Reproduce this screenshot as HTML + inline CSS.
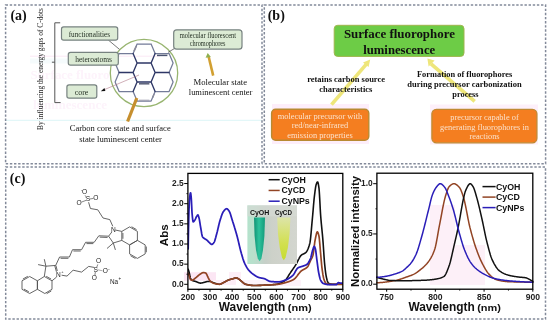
<!DOCTYPE html><html><head><meta charset="utf-8"><style>html,body{margin:0;padding:0;background:#fff;}svg{display:block;will-change:transform;}</style></head><body>
<svg width="550" height="324" viewBox="0 0 550 324">
<rect width="550" height="324" fill="#fff"/>
<defs><clipPath id="ghc"><rect x="0" y="0" width="111" height="324"/></clipPath></defs><g clip-path="url(#ghc)">
<text x="30.5" y="78.6" font-family='"Liberation Serif", serif' font-size="13" font-weight="bold" fill="#fdf3fb" textLength="111" lengthAdjust="spacingAndGlyphs">Surface fluorophore</text>
<text x="33" y="109" font-family='"Liberation Serif", serif' font-size="13" font-weight="bold" fill="#fdf3fb" textLength="74" lengthAdjust="spacingAndGlyphs">luminescence</text>
</g>
<line x1="6" y1="120.3" x2="262" y2="120.3" stroke="#dcf5f7" stroke-width="1" />
<line x1="30" y1="61.0" x2="118" y2="61.0" stroke="#f5fbfc" stroke-width="5" />
<line x1="30" y1="56.2" x2="160" y2="56.2" stroke="#fae2f3" stroke-width="0.8" />
<rect x="5.6" y="5.0" width="256.4" height="158.8" fill="none" stroke="#838a9a" stroke-width="1.5" stroke-dasharray="2.4 1.73"/>
<rect x="264.3" y="5.0" width="281.3" height="158.8" fill="none" stroke="#838a9a" stroke-width="1.5" stroke-dasharray="2.4 1.73"/>
<rect x="5.7" y="167.0" width="539.8" height="152.0" fill="none" stroke="#838a9a" stroke-width="1.5" stroke-dasharray="2.4 1.73"/>
<text x="10.4" y="20.2" font-family='"Liberation Serif", serif' font-size="14" font-weight="bold" fill="#111" text-anchor="start" >(a)</text>
<text x="267.7" y="20.2" font-family='"Liberation Serif", serif' font-size="14" font-weight="bold" fill="#111" text-anchor="start" >(b)</text>
<text x="9.8" y="182.5" font-family='"Liberation Serif", serif' font-size="14" font-weight="bold" fill="#111" text-anchor="start" >(c)</text>
<text transform="translate(42.6,130) rotate(-90)" x="0" y="0" font-family='"Liberation Serif", serif' font-size="7.4" fill="#222" textLength="122" lengthAdjust="spacingAndGlyphs">By influencing the energy gaps of C-dots</text>
<path d="M60.2,22.8 H54.8 V102.6 H60.6 M54.8,62.2 H51.9" fill="none" stroke="#555" stroke-width="1"/>
<circle cx="144" cy="73" r="33.7" fill="none" stroke="#98b570" stroke-width="1.3"/>
<path d="M137.1,44.0 L151.1,44.0 M151.1,44.0 L155.1,53.5 M133.1,53.5 L137.1,44.0 M151.1,101.0 L155.1,91.5 M137.1,101.0 L151.1,101.0 M133.1,91.5 L137.1,101.0 M119.1,53.5 L133.1,53.5 M115.1,63.0 L119.1,72.5 M115.1,63.0 L119.1,53.5 M155.1,53.5 L169.1,53.5 M169.1,53.5 L173.1,63.0 M169.1,72.5 L173.1,63.0 M119.1,91.5 L133.1,91.5 M115.1,82.0 L119.1,91.5 M115.1,82.0 L119.1,72.5 M169.1,72.5 L173.1,82.0 M169.1,91.5 L173.1,82.0 M155.1,91.5 L169.1,91.5" fill="none" stroke="#737b98" stroke-width="1.25" stroke-linecap="round"/>
<path d="M137.1,63.0 L151.1,63.0 M151.1,63.0 L155.1,72.5 M151.1,82.0 L155.1,72.5 M137.1,82.0 L151.1,82.0 M133.1,72.5 L137.1,82.0 M133.1,72.5 L137.1,63.0 M151.1,63.0 L155.1,53.5 M133.1,53.5 L137.1,63.0 M151.1,82.0 L155.1,91.5 M133.1,91.5 L137.1,82.0 M119.1,72.5 L133.1,72.5 M155.1,72.5 L169.1,72.5" fill="none" stroke="#2e3766" stroke-width="1.35" stroke-linecap="round"/>
<line x1="136.4" y1="46.0" x2="134.0" y2="51.2" stroke="#8a8a9a" stroke-width="1.6" />
<line x1="157.0" y1="55.4" x2="167.4" y2="55.4" stroke="#4a5470" stroke-width="1.5" />
<line x1="139.0" y1="83.8" x2="149.4" y2="83.8" stroke="#5a6078" stroke-width="1.5" />
<line x1="152.6" y1="97.6" x2="154.2" y2="94.0" stroke="#8a8a9a" stroke-width="1.4" />
<line x1="139.0" y1="100.2" x2="149.4" y2="100.2" stroke="#a0a0b0" stroke-width="1.0" />
<line x1="139.0" y1="75.0" x2="103.5" y2="90.0" stroke="#b07888" stroke-width="0.6" />
<path d="M100.8,91.2 L104.4,88.0 L105.4,91.0 Z" fill="#111"/>
<line x1="108.3" y1="40" x2="119.4" y2="49.3" stroke="#555" stroke-width="0.8" />
<line x1="174.3" y1="48.6" x2="168" y2="52.4" stroke="#555" stroke-width="0.8" />
<rect x="61.5" y="26.9" width="56.2" height="13.300000000000004" rx="2.2" fill="#dcebd5" stroke="#778280" stroke-width="1.2"/>
<rect x="68.3" y="52.4" width="50.0" height="12.800000000000004" rx="2.2" fill="#dcebd5" stroke="#778280" stroke-width="1.2"/>
<rect x="66.9" y="84.8" width="29.89999999999999" height="13.400000000000006" rx="2.2" fill="#dcebd5" stroke="#778280" stroke-width="1.2"/>
<rect x="173.7" y="29.8" width="68.30000000000001" height="19.400000000000002" rx="3" fill="#dcebd5" stroke="#778280" stroke-width="1.2"/>
<text x="89.3" y="36.6" font-family='"Liberation Serif", serif' font-size="7.9" font-weight="normal" fill="#1e2a1e" text-anchor="middle" textLength="41.3" lengthAdjust="spacingAndGlyphs" >functionalities</text>
<text x="93.6" y="62.0" font-family='"Liberation Serif", serif' font-size="7.9" font-weight="normal" fill="#1e2a1e" text-anchor="middle" textLength="36.6" lengthAdjust="spacingAndGlyphs" >heteroatoms</text>
<text x="81.6" y="94.6" font-family='"Liberation Serif", serif' font-size="7.9" font-weight="normal" fill="#1e2a1e" text-anchor="middle" >core</text>
<text x="207.9" y="37.7" font-family='"Liberation Serif", serif' font-size="7.2" font-weight="normal" fill="#1e2a1e" text-anchor="middle" textLength="56.3" lengthAdjust="spacingAndGlyphs" >molecular fluorescent</text>
<text x="207.6" y="45.5" font-family='"Liberation Serif", serif' font-size="7.2" font-weight="normal" fill="#1e2a1e" text-anchor="middle" textLength="35.8" lengthAdjust="spacingAndGlyphs" >chromophores</text>
<line x1="127.6" y1="121.5" x2="136.8" y2="98.0" stroke="#c68f2e" stroke-width="3.2" />
<line x1="213.2" y1="75.6" x2="208.6" y2="56.5" stroke="#d2a032" stroke-width="2.6" />
<path d="M207.7,53.0 L205.6,57.8 L210.9,56.9 Z" fill="#8fb050"/>
<text x="220.3" y="84.9" font-family='"Liberation Serif", serif' font-size="8.8" font-weight="normal" fill="#111" text-anchor="middle" textLength="53.6" lengthAdjust="spacingAndGlyphs" >Molecular  state</text>
<text x="220.6" y="95.4" font-family='"Liberation Serif", serif' font-size="8.8" font-weight="normal" fill="#111" text-anchor="middle" textLength="63.6" lengthAdjust="spacingAndGlyphs" >luminescent center</text>
<text x="120.2" y="131.4" font-family='"Liberation Serif", serif' font-size="8.8" font-weight="normal" fill="#111" text-anchor="middle" textLength="101" lengthAdjust="spacingAndGlyphs" >Carbon core state and surface</text>
<text x="120.5" y="142.3" font-family='"Liberation Serif", serif' font-size="8.8" font-weight="normal" fill="#111" text-anchor="middle" textLength="82.7" lengthAdjust="spacingAndGlyphs" >state luminescent center</text>
<rect x="272" y="104" width="97" height="40" fill="#fdeefa"/>
<rect x="430" y="104.5" width="108" height="40" fill="#fdf0fa"/>
<rect x="334.2" y="25.3" width="129.8" height="31.1" rx="3.5" fill="#6dcc46" stroke="#9fb44c" stroke-width="1"/>
<text x="399.4" y="38.4" font-family='"Liberation Serif", serif' font-size="12.9" font-weight="bold" fill="#111" text-anchor="middle" textLength="111" lengthAdjust="spacingAndGlyphs" >Surface fluorophore</text>
<text x="399.2" y="53.7" font-family='"Liberation Serif", serif' font-size="12.9" font-weight="bold" fill="#111" text-anchor="middle" textLength="72" lengthAdjust="spacingAndGlyphs" >luminescence</text>
<line x1="331.5" y1="104.7" x2="366.6" y2="63.8" stroke="#eee67a" stroke-width="3.6" />
<path d="M370.2,59.4 L363.0,62.4 L368.6,67.0 Z" fill="#eee67a"/>
<line x1="474.7" y1="101.4" x2="431.0" y2="63.8" stroke="#eee67a" stroke-width="3.6" />
<path d="M427.4,58.6 L428.6,66.4 L434.6,60.4 Z" fill="#eee67a"/>
<text x="346.1" y="81.8" font-family='"Liberation Serif", serif' font-size="8.4" font-weight="bold" fill="#111" text-anchor="middle" textLength="77.8" lengthAdjust="spacingAndGlyphs" >retains carbon source</text>
<text x="345.8" y="92.2" font-family='"Liberation Serif", serif' font-size="8.4" font-weight="bold" fill="#111" text-anchor="middle" textLength="53.2" lengthAdjust="spacingAndGlyphs" >characteristics</text>
<text x="464.6" y="77.0" font-family='"Liberation Serif", serif' font-size="8.4" font-weight="bold" fill="#111" text-anchor="middle" textLength="95.2" lengthAdjust="spacingAndGlyphs" >Formation of fluorophores</text>
<text x="464.5" y="87.2" font-family='"Liberation Serif", serif' font-size="8.4" font-weight="bold" fill="#111" text-anchor="middle" textLength="114.3" lengthAdjust="spacingAndGlyphs" >during precursor carbonization</text>
<text x="465.4" y="97.0" font-family='"Liberation Serif", serif' font-size="8.4" font-weight="bold" fill="#111" text-anchor="middle" textLength="26.3" lengthAdjust="spacingAndGlyphs" >process</text>
<rect x="271.6" y="109.2" width="97.2" height="31.0" rx="4" fill="#f47e20" stroke="#b88a32" stroke-width="1.4"/>
<rect x="431.9" y="109.3" width="105.0" height="33.5" rx="4.5" fill="#f47e20" stroke="#c08a34" stroke-width="1.3"/>
<text x="320.0" y="118.6" font-family='"Liberation Serif", serif' font-size="8.4" font-weight="normal" fill="#fbe2cc" text-anchor="middle" textLength="84.7" lengthAdjust="spacingAndGlyphs" >molecular precursor with</text>
<text x="320.0" y="128.4" font-family='"Liberation Serif", serif' font-size="8.4" font-weight="normal" fill="#fbe2cc" text-anchor="middle" >red/near-infrared</text>
<text x="320.0" y="138.4" font-family='"Liberation Serif", serif' font-size="8.4" font-weight="normal" fill="#fbe2cc" text-anchor="middle" >emission properties</text>
<text x="484.5" y="120.0" font-family='"Liberation Serif", serif' font-size="8.4" font-weight="normal" fill="#fbe2cc" text-anchor="middle" >precursor capable of</text>
<text x="484.5" y="129.7" font-family='"Liberation Serif", serif' font-size="8.4" font-weight="normal" fill="#fbe2cc" text-anchor="middle" >generating fluorophores in</text>
<text x="484.5" y="139.4" font-family='"Liberation Serif", serif' font-size="8.4" font-weight="normal" fill="#fbe2cc" text-anchor="middle" >reactions</text>
<defs><clipPath id="clipL"><rect x="187.9" y="173.4" width="154.9" height="115.9"/></clipPath></defs>
<path d="M121.80,231.40 L129.60,226.90 L137.40,231.40 L137.40,240.40 L129.60,244.90 L121.80,240.40 L121.80,231.40" fill="none" stroke="#4a4a4a" stroke-width="0.85" stroke-linejoin="round"/>
<path d="M129.60,244.90 L137.40,240.40 L145.20,244.90 L145.20,253.90 L137.40,258.40 L129.60,253.90 L129.60,244.90" fill="none" stroke="#4a4a4a" stroke-width="0.85" stroke-linejoin="round"/>
<path d="M122.90,233.02 L122.90,238.78" fill="none" stroke="#4a4a4a" stroke-width="0.85" stroke-linejoin="round"/>
<path d="M131.55,226.76 L136.55,229.64" fill="none" stroke="#4a4a4a" stroke-width="0.85" stroke-linejoin="round"/>
<path d="M146.30,246.52 L146.30,252.28" fill="none" stroke="#4a4a4a" stroke-width="0.85" stroke-linejoin="round"/>
<path d="M135.45,258.54 L130.45,255.66" fill="none" stroke="#4a4a4a" stroke-width="0.85" stroke-linejoin="round"/>
<path d="M115.30,230.00 L121.80,231.40" fill="none" stroke="#4a4a4a" stroke-width="0.85" stroke-linejoin="round"/>
<path d="M111.80,232.00 L108.60,236.20 L113.30,243.00 L121.80,240.40" fill="none" stroke="#4a4a4a" stroke-width="0.85" stroke-linejoin="round"/>
<path d="M113.30,243.00 L107.00,248.50" fill="none" stroke="#4a4a4a" stroke-width="0.85" stroke-linejoin="round"/>
<path d="M113.30,243.00 L115.40,249.90" fill="none" stroke="#4a4a4a" stroke-width="0.85" stroke-linejoin="round"/>
<path d="M112.80,226.30 L109.80,219.60 L103.00,218.00 L97.80,209.80 L90.40,208.50 L88.60,202.20" fill="none" stroke="#4a4a4a" stroke-width="0.85" stroke-linejoin="round"/>
<path d="M108.60,236.20 L98.80,235.80 L94.20,242.30 L85.60,242.30 L81.60,249.70 L72.50,249.70 L69.40,257.00 L59.60,257.00 L55.90,265.00" fill="none" stroke="#4a4a4a" stroke-width="0.85" stroke-linejoin="round"/>
<path d="M107.57,237.46 L99.73,237.14" fill="none" stroke="#4a4a4a" stroke-width="0.85" stroke-linejoin="round"/>
<path d="M93.34,243.60 L86.46,243.60" fill="none" stroke="#4a4a4a" stroke-width="0.85" stroke-linejoin="round"/>
<path d="M80.69,251.00 L73.41,251.00" fill="none" stroke="#4a4a4a" stroke-width="0.85" stroke-linejoin="round"/>
<path d="M68.42,258.30 L60.58,258.30" fill="none" stroke="#4a4a4a" stroke-width="0.85" stroke-linejoin="round"/>
<path d="M44.30,276.50 L52.00,280.80 L52.00,289.30 L44.80,293.50 L37.40,289.30 L37.40,280.80 L44.30,276.50" fill="none" stroke="#4a4a4a" stroke-width="0.85" stroke-linejoin="round"/>
<path d="M29.70,276.50 L37.40,280.80 L37.40,289.30 L29.70,293.50 L22.00,289.30 L22.00,280.80 L29.70,276.50" fill="none" stroke="#4a4a4a" stroke-width="0.85" stroke-linejoin="round"/>
<path d="M46.22,276.31 L51.15,279.07" fill="none" stroke="#4a4a4a" stroke-width="0.85" stroke-linejoin="round"/>
<path d="M51.26,291.01 L46.65,293.69" fill="none" stroke="#4a4a4a" stroke-width="0.85" stroke-linejoin="round"/>
<path d="M27.78,276.31 L22.85,279.07" fill="none" stroke="#4a4a4a" stroke-width="0.85" stroke-linejoin="round"/>
<path d="M28.84,291.78 L23.91,289.09" fill="none" stroke="#4a4a4a" stroke-width="0.85" stroke-linejoin="round"/>
<path d="M44.30,276.50 L45.90,266.20 L55.90,265.40 L57.30,271.00" fill="none" stroke="#4a4a4a" stroke-width="0.85" stroke-linejoin="round"/>
<path d="M54.74,265.72 L56.44,271.82" fill="none" stroke="#4a4a4a" stroke-width="0.85" stroke-linejoin="round"/>
<path d="M56.60,277.00 L52.00,280.80" fill="none" stroke="#4a4a4a" stroke-width="0.85" stroke-linejoin="round"/>
<path d="M45.90,266.20 L44.30,259.20" fill="none" stroke="#4a4a4a" stroke-width="0.85" stroke-linejoin="round"/>
<path d="M45.90,266.20 L38.10,264.60" fill="none" stroke="#4a4a4a" stroke-width="0.85" stroke-linejoin="round"/>
<path d="M61.60,275.20 L67.00,276.10 L73.10,270.20 L81.60,272.10 L88.70,266.40 L94.00,267.40" fill="none" stroke="#4a4a4a" stroke-width="0.85" stroke-linejoin="round"/>
<text x="113.5" y="231.8" font-family='"Liberation Sans", sans-serif' font-size="6.6" fill="#222" text-anchor="middle" font-weight="normal">N</text>
<text x="58.4" y="277.0" font-family='"Liberation Sans", sans-serif' font-size="6.6" fill="#222" text-anchor="middle" font-weight="normal">N</text>
<text x="62.4" y="273.0" font-family='"Liberation Sans", sans-serif' font-size="4" fill="#222" text-anchor="middle" font-weight="normal">+</text>
<text x="87.9" y="201.3" font-family='"Liberation Sans", sans-serif' font-size="6.6" fill="#222" text-anchor="middle" font-weight="normal">S</text>
<text x="84.6" y="193.8" font-family='"Liberation Sans", sans-serif' font-size="6.6" fill="#222" text-anchor="middle" font-weight="normal">O</text>
<text x="81.9" y="190.6" font-family='"Liberation Sans", sans-serif' font-size="4" fill="#222" text-anchor="middle" font-weight="normal">-</text>
<text x="95.8" y="199.7" font-family='"Liberation Sans", sans-serif' font-size="6.6" fill="#222" text-anchor="middle" font-weight="normal">O</text>
<text x="79.0" y="204.7" font-family='"Liberation Sans", sans-serif' font-size="6.6" fill="#222" text-anchor="middle" font-weight="normal">O</text>
<path d="M86.20,198.00 L85.00,195.00" fill="none" stroke="#777" stroke-width="0.6" stroke-linejoin="round"/>
<path d="M89.80,199.00 L93.60,198.40" fill="none" stroke="#777" stroke-width="0.9" stroke-linejoin="round"/>
<path d="M86.00,200.40 L81.20,202.20" fill="none" stroke="#777" stroke-width="0.9" stroke-linejoin="round"/>
<text x="95.8" y="271.6" font-family='"Liberation Sans", sans-serif' font-size="6.6" fill="#222" text-anchor="middle" font-weight="normal">S</text>
<text x="98.6" y="262.6" font-family='"Liberation Sans", sans-serif' font-size="6.6" fill="#222" text-anchor="middle" font-weight="normal">O</text>
<text x="94.4" y="279.6" font-family='"Liberation Sans", sans-serif' font-size="6.6" fill="#222" text-anchor="middle" font-weight="normal">O</text>
<text x="105.4" y="273.3" font-family='"Liberation Sans", sans-serif' font-size="6.6" fill="#222" text-anchor="middle" font-weight="normal">O</text>
<text x="108.8" y="270.0" font-family='"Liberation Sans", sans-serif' font-size="4" fill="#222" text-anchor="middle" font-weight="normal">-</text>
<path d="M96.60,267.60 L97.80,264.40" fill="none" stroke="#777" stroke-width="0.9" stroke-linejoin="round"/>
<path d="M95.40,271.80 L94.80,275.60" fill="none" stroke="#777" stroke-width="0.9" stroke-linejoin="round"/>
<path d="M97.80,269.80 L102.60,270.80" fill="none" stroke="#777" stroke-width="0.6" stroke-linejoin="round"/>
<text x="114.0" y="284.2" font-family='"Liberation Sans", sans-serif' font-size="6.4" fill="#222" text-anchor="middle" font-weight="normal">Na</text>
<text x="119.8" y="280.4" font-family='"Liberation Sans", sans-serif' font-size="4.6" fill="#222" text-anchor="middle" font-weight="normal">+</text>
<rect x="184" y="272.2" width="32" height="8.5" fill="#fce6f4"/>
<rect x="216" y="280" width="20" height="5" fill="#fdeef7"/>
<rect x="229" y="272" width="12" height="8" fill="#fdeef7"/>
<rect x="241" y="280" width="60" height="6" fill="#fdf2f9"/>
<g clip-path="url(#clipL)">
<polyline points="187.90,268.99 188.01,269.18 188.12,269.39 188.23,269.62 188.34,269.86 188.45,270.13 188.56,270.40 188.67,270.69 188.79,271.00 188.90,271.34 189.01,271.74 189.12,272.18 189.23,272.66 189.34,273.17 189.45,273.69 189.56,274.23 189.67,274.78 189.78,275.31 189.89,275.84 190.00,276.34 190.11,276.82 190.22,277.25 190.33,277.64 190.44,277.98 190.56,278.25 190.67,278.49 190.78,278.72 190.89,278.94 191.00,279.15 191.11,279.34 191.22,279.52 191.33,279.69 191.44,279.84 191.55,279.98 191.66,280.10 191.77,280.19 191.88,280.27 191.99,280.33 192.10,280.39 192.22,280.45 192.33,280.51 192.44,280.56 192.55,280.60 192.66,280.65 192.77,280.69 192.88,280.73 192.99,280.77 193.10,280.81 193.21,280.85 193.32,280.88 193.43,280.91 193.54,280.94 193.65,280.97 193.76,281.00 193.87,281.03 193.99,281.05 194.10,281.08 194.21,281.11 194.32,281.13 194.43,281.16 194.54,281.18 194.65,281.21 194.76,281.24 194.87,281.26 194.98,281.29 195.09,281.32 195.20,281.35 195.31,281.38 195.42,281.41 195.53,281.44 195.65,281.48 195.76,281.52 195.87,281.55 195.98,281.59 196.09,281.64 196.20,281.68 196.31,281.72 196.42,281.77 196.53,281.81 196.64,281.86 196.75,281.91 196.86,281.95 196.97,282.00 197.08,282.05 197.19,282.10 197.30,282.15 197.42,282.20 197.53,282.25 197.64,282.29 197.75,282.34 197.86,282.39 197.97,282.44 198.08,282.48 198.19,282.53 198.30,282.57 198.41,282.62 198.52,282.66 198.63,282.70 198.74,282.74 198.85,282.78 198.96,282.81 199.07,282.85 199.19,282.88 199.30,282.91 199.41,282.94 199.52,282.97 199.63,282.99 199.74,283.02 199.85,283.03 199.96,283.05 200.07,283.07 200.18,283.08 200.29,283.08 200.40,283.09 200.51,283.09 200.62,283.09 200.73,283.09 200.85,283.08 200.96,283.07 201.07,283.06 201.18,283.05 201.29,283.04 201.40,283.02 201.51,283.01 201.62,282.99 201.73,282.97 201.84,282.95 201.95,282.93 202.06,282.90 202.17,282.88 202.28,282.85 202.39,282.83 202.50,282.80 202.62,282.77 202.73,282.74 202.84,282.71 202.95,282.68 203.06,282.65 203.17,282.62 203.28,282.59 203.39,282.56 203.50,282.53 203.61,282.51 203.72,282.48 203.83,282.45 203.94,282.42 204.05,282.39 204.16,282.36 204.28,282.34 204.39,282.31 204.50,282.29 204.61,282.26 204.72,282.23 204.83,282.20 204.94,282.17 205.05,282.14 205.16,282.11 205.27,282.07 205.38,282.04 205.49,282.00 205.60,281.97 205.71,281.93 205.82,281.90 205.93,281.86 206.05,281.82 206.16,281.79 206.27,281.76 206.38,281.72 206.49,281.69 206.60,281.66 206.71,281.63 206.82,281.61 206.93,281.58 207.04,281.56 207.15,281.54 207.26,281.52 207.37,281.51 207.48,281.49 207.59,281.49 207.71,281.48 207.82,281.48 207.93,281.48 208.04,281.48 208.15,281.48 208.26,281.48 208.37,281.48 208.48,281.48 208.59,281.48 208.70,281.48 208.81,281.48 208.92,281.48 209.03,281.48 209.14,281.48 209.25,281.48 209.36,281.48 209.48,281.48 209.59,281.48 209.70,281.48 209.81,281.48 209.92,281.48 210.03,281.48 210.14,281.48 210.25,281.49 210.36,281.50 210.47,281.52 210.58,281.54 210.69,281.57 210.80,281.60 210.91,281.64 211.02,281.68 211.13,281.72 211.25,281.76 211.36,281.81 211.47,281.85 211.58,281.90 211.69,281.96 211.80,282.01 211.91,282.06 212.02,282.11 212.13,282.17 212.24,282.22 212.35,282.28 212.46,282.33 212.57,282.38 212.68,282.43 212.79,282.48 212.91,282.53 213.02,282.57 213.13,282.61 213.24,282.65 213.35,282.69 213.46,282.72 213.57,282.76 213.68,282.79 213.79,282.83 213.90,282.87 214.01,282.90 214.12,282.94 214.23,282.98 214.34,283.02 214.45,283.05 214.56,283.09 214.68,283.13 214.79,283.17 214.90,283.21 215.01,283.25 215.12,283.29 215.23,283.33 215.34,283.36 215.45,283.40 215.56,283.44 215.67,283.48 215.78,283.52 215.89,283.55 216.00,283.59 216.11,283.63 216.22,283.66 216.34,283.70 216.45,283.73 216.56,283.77 216.67,283.80 216.78,283.83 216.89,283.87 217.00,283.90 217.11,283.93 217.22,283.96 217.33,283.99 217.44,284.01 217.55,284.04 217.66,284.07 217.77,284.09 217.88,284.12 217.99,284.14 218.11,284.16 218.22,284.18 218.33,284.20 218.44,284.21 218.55,284.23 218.66,284.24 218.77,284.26 218.88,284.27 218.99,284.28 219.10,284.29 219.21,284.29 219.32,284.30 219.43,284.30 219.54,284.30 219.65,284.30 219.77,284.29 219.88,284.28 219.99,284.26 220.10,284.24 220.21,284.21 220.32,284.18 220.43,284.15 220.54,284.11 220.65,284.07 220.76,284.03 220.87,283.98 220.98,283.93 221.09,283.88 221.20,283.83 221.31,283.77 221.42,283.71 221.54,283.65 221.65,283.59 221.76,283.53 221.87,283.47 221.98,283.41 222.09,283.34 222.20,283.28 222.31,283.22 222.42,283.15 222.53,283.09 222.64,283.03 222.75,282.97 222.86,282.91 222.97,282.85 223.08,282.79 223.20,282.74 223.31,282.69 223.42,282.64 223.53,282.58 223.64,282.53 223.75,282.47 223.86,282.42 223.97,282.36 224.08,282.31 224.19,282.25 224.30,282.19 224.41,282.13 224.52,282.07 224.63,282.01 224.74,281.95 224.85,281.89 224.97,281.82 225.08,281.76 225.19,281.70 225.30,281.64 225.41,281.58 225.52,281.51 225.63,281.45 225.74,281.39 225.85,281.33 225.96,281.26 226.07,281.20 226.18,281.14 226.29,281.08 226.40,281.02 226.51,280.95 226.62,280.89 226.74,280.83 226.85,280.78 226.96,280.72 227.07,280.66 227.18,280.60 227.29,280.54 227.40,280.49 227.51,280.43 227.62,280.38 227.73,280.33 227.84,280.28 227.95,280.23 228.06,280.18 228.17,280.13 228.28,280.08 228.40,280.03 228.51,279.99 228.62,279.95 228.73,279.91 228.84,279.87 228.95,279.83 229.06,279.79 229.17,279.75 229.28,279.72 229.39,279.68 229.50,279.65 229.61,279.61 229.72,279.58 229.83,279.55 229.94,279.52 230.05,279.49 230.17,279.45 230.28,279.42 230.39,279.39 230.50,279.36 230.61,279.33 230.72,279.31 230.83,279.28 230.94,279.25 231.05,279.22 231.16,279.19 231.27,279.17 231.38,279.14 231.49,279.11 231.60,279.08 231.71,279.06 231.83,279.03 231.94,279.00 232.05,278.97 232.16,278.95 232.27,278.92 232.38,278.89 232.49,278.86 232.60,278.83 232.71,278.81 232.82,278.78 232.93,278.75 233.04,278.72 233.15,278.69 233.26,278.66 233.37,278.63 233.48,278.59 233.60,278.56 233.71,278.52 233.82,278.48 233.93,278.44 234.04,278.40 234.15,278.36 234.26,278.32 234.37,278.28 234.48,278.24 234.59,278.19 234.70,278.16 234.81,278.12 234.92,278.08 235.03,278.05 235.14,278.01 235.26,277.98 235.37,277.95 235.48,277.93 235.59,277.91 235.70,277.89 235.81,277.87 235.92,277.86 236.03,277.85 236.14,277.85 236.25,277.86 236.36,277.87 236.47,277.88 236.58,277.91 236.69,277.93 236.80,277.97 236.91,278.01 237.03,278.05 237.14,278.10 237.25,278.15 237.36,278.20 237.47,278.26 237.58,278.32 237.69,278.38 237.80,278.45 237.91,278.52 238.02,278.58 238.13,278.65 238.24,278.72 238.35,278.79 238.46,278.86 238.57,278.93 238.69,278.99 238.80,279.06 238.91,279.13 239.02,279.20 239.13,279.28 239.24,279.36 239.35,279.45 239.46,279.53 239.57,279.62 239.68,279.72 239.79,279.81 239.90,279.91 240.01,280.01 240.12,280.11 240.23,280.21 240.34,280.31 240.46,280.41 240.57,280.51 240.68,280.61 240.79,280.71 240.90,280.80 241.01,280.90 241.12,280.99 241.23,281.08 241.34,281.16 241.45,281.25 241.56,281.34 241.67,281.44 241.78,281.53 241.89,281.62 242.00,281.72 242.12,281.82 242.23,281.91 242.34,282.01 242.45,282.11 242.56,282.21 242.67,282.31 242.78,282.41 242.89,282.50 243.00,282.60 243.11,282.70 243.22,282.79 243.33,282.89 243.44,282.98 243.55,283.07 243.66,283.16 243.77,283.25 243.89,283.33 244.00,283.42 244.11,283.50 244.22,283.58 244.33,283.66 244.44,283.73 244.55,283.80 244.66,283.87 244.77,283.93 244.88,283.99 244.99,284.05 245.10,284.10 245.21,284.15 245.32,284.19 245.43,284.23 245.54,284.27 245.66,284.30 245.77,284.33 245.88,284.36 245.99,284.38 246.10,284.41 246.21,284.44 246.32,284.46 246.43,284.49 246.54,284.52 246.65,284.54 246.76,284.57 246.87,284.59 246.98,284.62 247.09,284.64 247.20,284.67 247.32,284.69 247.43,284.72 247.54,284.74 247.65,284.76 247.76,284.79 247.87,284.81 247.98,284.83 248.09,284.85 248.20,284.87 248.31,284.90 248.42,284.92 248.53,284.94 248.64,284.96 248.75,284.98 248.86,285.00 248.97,285.02 249.09,285.04 249.20,285.06 249.31,285.07 249.42,285.09 249.53,285.11 249.64,285.13 249.75,285.14 249.86,285.16 249.97,285.18 250.08,285.19 250.19,285.21 250.30,285.22 250.41,285.24 250.52,285.25 250.63,285.27 250.75,285.28 250.86,285.30 250.97,285.31 251.08,285.32 251.19,285.33 251.30,285.35 251.41,285.36 251.52,285.37 251.63,285.38 251.74,285.39 251.85,285.40 251.96,285.41 252.07,285.42 252.18,285.43 252.29,285.44 252.40,285.44 252.52,285.45 252.63,285.46 252.74,285.46 252.85,285.47 252.96,285.48 253.07,285.48 253.18,285.49 253.29,285.49 253.40,285.49 253.51,285.50 253.62,285.50 253.73,285.50 253.84,285.51 253.95,285.51 254.06,285.51 254.18,285.51 254.29,285.51 254.40,285.51 254.51,285.51 254.62,285.51 254.73,285.51 254.84,285.51 254.95,285.51 255.06,285.51 255.17,285.50 255.28,285.50 255.39,285.50 255.50,285.50 255.61,285.50 255.72,285.50 255.83,285.50 255.95,285.49 256.06,285.49 256.17,285.49 256.28,285.49 256.39,285.49 256.50,285.48 256.61,285.48 256.72,285.48 256.83,285.48 256.94,285.47 257.05,285.47 257.16,285.47 257.27,285.47 257.38,285.46 257.49,285.46 257.61,285.46 257.72,285.45 257.83,285.45 257.94,285.45 258.05,285.44 258.16,285.44 258.27,285.43 258.38,285.43 258.49,285.43 258.60,285.42 258.71,285.42 258.82,285.41 258.93,285.41 259.04,285.41 259.15,285.40 259.26,285.40 259.38,285.39 259.49,285.39 259.60,285.38 259.71,285.38 259.82,285.37 259.93,285.37 260.04,285.37 260.15,285.36 260.26,285.36 260.37,285.35 260.48,285.35 260.59,285.34 260.70,285.34 260.81,285.33 260.92,285.33 261.03,285.32 261.15,285.31 261.26,285.31 261.37,285.30 261.48,285.30 261.59,285.29 261.70,285.29 261.81,285.28 261.92,285.28 262.03,285.27 262.14,285.27 262.25,285.26 262.36,285.26 262.47,285.25 262.58,285.24 262.69,285.24 262.81,285.23 262.92,285.23 263.03,285.22 263.14,285.22 263.25,285.21 263.36,285.21 263.47,285.20 263.58,285.19 263.69,285.19 263.80,285.18 263.91,285.18 264.02,285.17 264.13,285.17 264.24,285.16 264.35,285.16 264.46,285.15 264.58,285.14 264.69,285.14 264.80,285.13 264.91,285.13 265.02,285.12 265.13,285.12 265.24,285.11 265.35,285.11 265.46,285.10 265.57,285.10 265.68,285.09 265.79,285.08 265.90,285.08 266.01,285.07 266.12,285.07 266.24,285.06 266.35,285.06 266.46,285.05 266.57,285.05 266.68,285.04 266.79,285.04 266.90,285.03 267.01,285.03 267.12,285.02 267.23,285.02 267.34,285.01 267.45,285.00 267.56,285.00 267.67,284.99 267.78,284.99 267.89,284.98 268.01,284.98 268.12,284.97 268.23,284.97 268.34,284.96 268.45,284.95 268.56,284.95 268.67,284.94 268.78,284.94 268.89,284.93 269.00,284.93 269.11,284.92 269.22,284.91 269.33,284.91 269.44,284.90 269.55,284.89 269.67,284.89 269.78,284.88 269.89,284.88 270.00,284.87 270.11,284.86 270.22,284.86 270.33,284.85 270.44,284.84 270.55,284.84 270.66,284.83 270.77,284.82 270.88,284.81 270.99,284.81 271.10,284.80 271.21,284.79 271.32,284.78 271.44,284.78 271.55,284.77 271.66,284.76 271.77,284.75 271.88,284.75 271.99,284.74 272.10,284.73 272.21,284.72 272.32,284.71 272.43,284.70 272.54,284.70 272.65,284.69 272.76,284.68 272.87,284.67 272.98,284.66 273.10,284.65 273.21,284.64 273.32,284.63 273.43,284.62 273.54,284.61 273.65,284.60 273.76,284.59 273.87,284.58 273.98,284.57 274.09,284.56 274.20,284.55 274.31,284.54 274.42,284.53 274.53,284.52 274.64,284.50 274.75,284.49 274.87,284.48 274.98,284.47 275.09,284.46 275.20,284.45 275.31,284.43 275.42,284.42 275.53,284.41 275.64,284.40 275.75,284.38 275.86,284.37 275.97,284.36 276.08,284.34 276.19,284.33 276.30,284.31 276.41,284.30 276.52,284.29 276.64,284.27 276.75,284.25 276.86,284.23 276.97,284.22 277.08,284.20 277.19,284.18 277.30,284.15 277.41,284.13 277.52,284.11 277.63,284.08 277.74,284.06 277.85,284.03 277.96,284.00 278.07,283.97 278.18,283.94 278.30,283.91 278.41,283.88 278.52,283.85 278.63,283.82 278.74,283.78 278.85,283.75 278.96,283.71 279.07,283.67 279.18,283.63 279.29,283.60 279.40,283.56 279.51,283.51 279.62,283.47 279.73,283.43 279.84,283.39 279.95,283.34 280.07,283.30 280.18,283.25 280.29,283.20 280.40,283.16 280.51,283.11 280.62,283.06 280.73,283.01 280.84,282.96 280.95,282.90 281.06,282.85 281.17,282.80 281.28,282.74 281.39,282.69 281.50,282.63 281.61,282.57 281.73,282.52 281.84,282.46 281.95,282.40 282.06,282.34 282.17,282.28 282.28,282.22 282.39,282.15 282.50,282.09 282.61,282.03 282.72,281.96 282.83,281.90 282.94,281.83 283.05,281.76 283.16,281.69 283.27,281.63 283.38,281.56 283.50,281.49 283.61,281.42 283.72,281.34 283.83,281.27 283.94,281.20 284.05,281.13 284.16,281.05 284.27,280.98 284.38,280.90 284.49,280.82 284.60,280.75 284.71,280.67 284.82,280.59 284.93,280.51 285.04,280.43 285.16,280.35 285.27,280.27 285.38,280.18 285.49,280.09 285.60,279.99 285.71,279.89 285.82,279.77 285.93,279.65 286.04,279.53 286.15,279.39 286.26,279.26 286.37,279.11 286.48,278.97 286.59,278.81 286.70,278.66 286.81,278.50 286.93,278.33 287.04,278.16 287.15,277.99 287.26,277.82 287.37,277.64 287.48,277.46 287.59,277.28 287.70,277.09 287.81,276.91 287.92,276.72 288.03,276.53 288.14,276.34 288.25,276.15 288.36,275.96 288.47,275.77 288.59,275.58 288.70,275.39 288.81,275.20 288.92,275.01 289.03,274.83 289.14,274.64 289.25,274.46 289.36,274.28 289.47,274.10 289.58,273.93 289.69,273.75 289.80,273.58 289.91,273.42 290.02,273.26 290.13,273.09 290.24,272.93 290.36,272.77 290.47,272.61 290.58,272.44 290.69,272.28 290.80,272.12 290.91,271.96 291.02,271.80 291.13,271.64 291.24,271.48 291.35,271.32 291.46,271.16 291.57,271.00 291.68,270.84 291.79,270.68 291.90,270.52 292.01,270.36 292.13,270.20 292.24,270.04 292.35,269.88 292.46,269.72 292.57,269.56 292.68,269.40 292.79,269.24 292.90,269.08 293.01,268.92 293.12,268.76 293.23,268.60 293.34,268.44 293.45,268.27 293.56,268.11 293.67,267.95 293.79,267.78 293.90,267.62 294.01,267.45 294.12,267.29 294.23,267.12 294.34,266.96 294.45,266.79 294.56,266.62 294.67,266.45 294.78,266.29 294.89,266.12 295.00,265.95 295.11,265.77 295.22,265.60 295.33,265.43 295.44,265.26 295.56,265.08 295.67,264.91 295.78,264.73 295.89,264.55 296.00,264.37 296.11,264.19 296.22,264.00 296.33,263.80 296.44,263.60 296.55,263.40 296.66,263.20 296.77,262.99 296.88,262.78 296.99,262.56 297.10,262.35 297.22,262.13 297.33,261.91 297.44,261.68 297.55,261.46 297.66,261.24 297.77,261.01 297.88,260.79 297.99,260.56 298.10,260.34 298.21,260.11 298.32,259.89 298.43,259.66 298.54,259.44 298.65,259.22 298.76,259.01 298.87,258.79 298.99,258.58 299.10,258.37 299.21,258.16 299.32,257.96 299.43,257.76 299.54,257.56 299.65,257.37 299.76,257.18 299.87,257.00 299.98,256.82 300.09,256.65 300.20,256.48 300.31,256.32 300.42,256.17 300.53,256.02 300.65,255.88 300.76,255.74 300.87,255.62 300.98,255.50 301.09,255.39 301.20,255.28 301.31,255.19 301.42,255.10 301.53,255.01 301.64,254.93 301.75,254.85 301.86,254.77 301.97,254.70 302.08,254.63 302.19,254.57 302.30,254.50 302.42,254.44 302.53,254.39 302.64,254.33 302.75,254.28 302.86,254.22 302.97,254.17 303.08,254.12 303.19,254.07 303.30,254.02 303.41,253.97 303.52,253.92 303.63,253.87 303.74,253.82 303.85,253.77 303.96,253.72 304.07,253.67 304.19,253.62 304.30,253.56 304.41,253.50 304.52,253.44 304.63,253.38 304.74,253.32 304.85,253.25 304.96,253.18 305.07,253.10 305.18,253.02 305.29,252.94 305.40,252.86 305.51,252.76 305.62,252.67 305.73,252.57 305.85,252.46 305.96,252.35 306.07,252.23 306.18,252.11 306.29,251.98 306.40,251.84 306.51,251.69 306.62,251.53 306.73,251.37 306.84,251.20 306.95,251.02 307.06,250.84 307.17,250.65 307.28,250.44 307.39,250.23 307.50,250.01 307.62,249.79 307.73,249.55 307.84,249.30 307.95,249.05 308.06,248.78 308.17,248.51 308.28,248.23 308.39,247.94 308.50,247.63 308.61,247.32 308.72,247.00 308.83,246.67 308.94,246.32 309.05,245.97 309.16,245.61 309.28,245.23 309.39,244.85 309.50,244.45 309.61,244.04 309.72,243.62 309.83,243.19 309.94,242.71 310.05,242.12 310.16,241.43 310.27,240.66 310.38,239.81 310.49,238.89 310.60,237.90 310.71,236.85 310.82,235.75 310.93,234.61 311.05,233.42 311.16,232.21 311.27,230.96 311.38,229.71 311.49,228.44 311.60,227.16 311.71,225.89 311.82,224.63 311.93,223.38 312.04,222.16 312.15,220.97 312.26,219.82 312.37,218.66 312.48,217.47 312.59,216.23 312.71,214.97 312.82,213.68 312.93,212.38 313.04,211.06 313.15,209.74 313.26,208.42 313.37,207.11 313.48,205.80 313.59,204.52 313.70,203.26 313.81,202.03 313.92,200.84 314.03,199.69 314.14,198.59 314.25,197.54 314.36,196.56 314.48,195.64 314.59,194.76 314.70,193.87 314.81,192.99 314.92,192.12 315.03,191.27 315.14,190.43 315.25,189.62 315.36,188.84 315.47,188.10 315.58,187.40 315.69,186.75 315.80,186.14 315.91,185.60 316.02,185.12 316.14,184.70 316.25,184.36 316.36,184.05 316.47,183.75 316.58,183.46 316.69,183.19 316.80,182.93 316.91,182.69 317.02,182.48 317.13,182.29 317.24,182.14 317.35,182.03 317.46,181.96 317.57,181.94 317.68,181.99 317.79,182.16 317.91,182.41 318.02,182.76 318.13,183.18 318.24,183.68 318.35,184.23 318.46,184.83 318.57,185.48 318.68,186.16 318.79,186.86 318.90,187.58 319.01,188.45 319.12,189.58 319.23,190.95 319.34,192.53 319.45,194.28 319.56,196.17 319.68,198.17 319.79,200.24 319.90,202.36 320.01,204.49 320.12,206.61 320.23,208.67 320.34,210.66 320.45,212.52 320.56,214.25 320.67,215.79 320.78,217.20 320.89,218.56 321.00,219.87 321.11,221.14 321.22,222.37 321.34,223.56 321.45,224.73 321.56,225.87 321.67,227.00 321.78,228.12 321.89,229.23 322.00,230.35 322.11,231.47 322.22,232.60 322.33,233.75 322.44,234.93 322.55,236.13 322.66,237.37 322.77,238.65 322.88,239.97 322.99,241.36 323.11,242.84 323.22,244.37 323.33,245.96 323.44,247.59 323.55,249.25 323.66,250.91 323.77,252.57 323.88,254.22 323.99,255.84 324.10,257.41 324.21,258.93 324.32,260.37 324.43,261.73 324.54,263.00 324.65,264.15 324.77,265.23 324.88,266.29 324.99,267.32 325.10,268.33 325.21,269.30 325.32,270.24 325.43,271.15 325.54,272.01 325.65,272.83 325.76,273.61 325.87,274.35 325.98,275.03 326.09,275.66 326.20,276.24 326.31,276.78 326.42,277.31 326.54,277.83 326.65,278.32 326.76,278.80 326.87,279.25 326.98,279.68 327.09,280.09 327.20,280.47 327.31,280.82 327.42,281.13 327.53,281.42 327.64,281.67 327.75,281.88 327.86,282.07 327.97,282.26 328.08,282.44 328.20,282.62 328.31,282.79 328.42,282.94 328.53,283.10 328.64,283.24 328.75,283.36 328.86,283.48 328.97,283.59 329.08,283.68 329.19,283.76 329.30,283.82 329.41,283.87 329.52,283.90 329.63,283.92 329.74,283.94 329.85,283.96 329.97,283.98 330.08,284.00 330.19,284.01 330.30,284.03 330.41,284.05 330.52,284.06 330.63,284.08 330.74,284.09 330.85,284.11 330.96,284.12 331.07,284.14 331.18,284.15 331.29,284.16 331.40,284.17 331.51,284.18 331.63,284.19 331.74,284.20 331.85,284.21 331.96,284.22 332.07,284.23 332.18,284.24 332.29,284.25 332.40,284.25 332.51,284.26 332.62,284.27 332.73,284.27 332.84,284.28 332.95,284.28 333.06,284.29 333.17,284.29 333.28,284.29 333.40,284.29 333.51,284.30 333.62,284.30 333.73,284.30 333.84,284.30 333.95,284.30 334.06,284.30 334.17,284.30 334.28,284.30 334.39,284.30 334.50,284.30 334.61,284.30 334.72,284.30 334.83,284.30 334.94,284.30 335.06,284.30 335.17,284.30 335.28,284.30 335.39,284.30 335.50,284.30 335.61,284.30 335.72,284.30 335.83,284.30 335.94,284.30 336.05,284.30 336.16,284.30 336.27,284.30 336.38,284.30 336.49,284.30 336.60,284.30 336.71,284.30 336.83,284.30 336.94,284.30 337.05,284.30 337.16,284.30 337.27,284.30 337.38,284.30 337.49,284.30 337.60,284.30 337.71,284.30 337.82,284.30 337.93,284.30 338.04,284.30 338.15,284.30 338.26,284.30 338.37,284.30 338.48,284.30 338.60,284.30 338.71,284.30 338.82,284.30 338.93,284.30 339.04,284.30 339.15,284.30 339.26,284.30 339.37,284.30 339.48,284.30 339.59,284.30 339.70,284.30 339.81,284.30 339.92,284.30 340.03,284.30 340.14,284.30 340.26,284.30 340.37,284.30 340.48,284.30 340.59,284.30 340.70,284.30 340.81,284.30 340.92,284.30 341.03,284.30 341.14,284.30 341.25,284.30 341.36,284.30 341.47,284.30 341.58,284.30 341.69,284.30 341.80,284.30 341.91,284.30 342.03,284.30 342.14,284.30 342.25,284.30 342.36,284.30 342.47,284.30 342.58,284.30 342.69,284.30 342.80,284.30" fill="none" stroke="#111" stroke-width="1.6" stroke-linejoin="round" stroke-linecap="round" />
<polyline points="187.90,273.02 188.01,273.24 188.12,273.47 188.23,273.70 188.34,273.94 188.45,274.18 188.56,274.42 188.67,274.67 188.79,274.92 188.90,275.17 189.01,275.43 189.12,275.71 189.23,276.02 189.34,276.34 189.45,276.68 189.56,277.03 189.67,277.38 189.78,277.72 189.89,278.05 190.00,278.37 190.11,278.66 190.22,278.92 190.33,279.15 190.44,279.33 190.56,279.46 190.67,279.57 190.78,279.67 190.89,279.77 191.00,279.86 191.11,279.95 191.22,280.03 191.33,280.10 191.44,280.16 191.55,280.20 191.66,280.24 191.77,280.26 191.88,280.27 191.99,280.27 192.10,280.25 192.22,280.24 192.33,280.21 192.44,280.18 192.55,280.14 192.66,280.10 192.77,280.05 192.88,279.99 192.99,279.93 193.10,279.87 193.21,279.80 193.32,279.72 193.43,279.65 193.54,279.57 193.65,279.48 193.76,279.40 193.87,279.31 193.99,279.22 194.10,279.13 194.21,279.04 194.32,278.94 194.43,278.85 194.54,278.75 194.65,278.66 194.76,278.56 194.87,278.47 194.98,278.37 195.09,278.28 195.20,278.19 195.31,278.10 195.42,278.02 195.53,277.93 195.65,277.85 195.76,277.77 195.87,277.69 195.98,277.60 196.09,277.52 196.20,277.43 196.31,277.34 196.42,277.25 196.53,277.15 196.64,277.06 196.75,276.96 196.86,276.87 196.97,276.77 197.08,276.67 197.19,276.57 197.30,276.47 197.42,276.37 197.53,276.27 197.64,276.17 197.75,276.07 197.86,275.97 197.97,275.88 198.08,275.78 198.19,275.68 198.30,275.58 198.41,275.48 198.52,275.39 198.63,275.29 198.74,275.20 198.85,275.11 198.96,275.02 199.07,274.93 199.19,274.84 199.30,274.76 199.41,274.67 199.52,274.59 199.63,274.51 199.74,274.44 199.85,274.36 199.96,274.29 200.07,274.23 200.18,274.16 200.29,274.09 200.40,274.02 200.51,273.95 200.62,273.87 200.73,273.80 200.85,273.73 200.96,273.66 201.07,273.58 201.18,273.51 201.29,273.44 201.40,273.37 201.51,273.30 201.62,273.23 201.73,273.17 201.84,273.11 201.95,273.05 202.06,272.99 202.17,272.93 202.28,272.88 202.39,272.84 202.50,272.79 202.62,272.75 202.73,272.72 202.84,272.69 202.95,272.66 203.06,272.64 203.17,272.63 203.28,272.62 203.39,272.61 203.50,272.61 203.61,272.62 203.72,272.62 203.83,272.63 203.94,272.64 204.05,272.66 204.16,272.67 204.28,272.69 204.39,272.70 204.50,272.73 204.61,272.75 204.72,272.77 204.83,272.80 204.94,272.82 205.05,272.85 205.16,272.88 205.27,272.91 205.38,272.95 205.49,272.98 205.60,273.02 205.71,273.07 205.82,273.14 205.93,273.24 206.05,273.37 206.16,273.51 206.27,273.67 206.38,273.85 206.49,274.05 206.60,274.26 206.71,274.48 206.82,274.72 206.93,274.96 207.04,275.21 207.15,275.46 207.26,275.71 207.37,275.97 207.48,276.23 207.59,276.48 207.71,276.73 207.82,276.97 207.93,277.21 208.04,277.44 208.15,277.65 208.26,277.85 208.37,278.05 208.48,278.26 208.59,278.47 208.70,278.68 208.81,278.90 208.92,279.12 209.03,279.33 209.14,279.54 209.25,279.75 209.36,279.95 209.48,280.14 209.59,280.31 209.70,280.48 209.81,280.63 209.92,280.76 210.03,280.87 210.14,280.98 210.25,281.08 210.36,281.18 210.47,281.28 210.58,281.37 210.69,281.47 210.80,281.56 210.91,281.65 211.02,281.73 211.13,281.82 211.25,281.90 211.36,281.98 211.47,282.06 211.58,282.14 211.69,282.22 211.80,282.29 211.91,282.36 212.02,282.43 212.13,282.50 212.24,282.57 212.35,282.63 212.46,282.69 212.57,282.75 212.68,282.81 212.79,282.87 212.91,282.92 213.02,282.98 213.13,283.03 213.24,283.08 213.35,283.12 213.46,283.17 213.57,283.21 213.68,283.25 213.79,283.29 213.90,283.33 214.01,283.37 214.12,283.40 214.23,283.43 214.34,283.47 214.45,283.49 214.56,283.52 214.68,283.55 214.79,283.58 214.90,283.60 215.01,283.63 215.12,283.66 215.23,283.69 215.34,283.71 215.45,283.74 215.56,283.76 215.67,283.79 215.78,283.81 215.89,283.84 216.00,283.86 216.11,283.89 216.22,283.91 216.34,283.93 216.45,283.95 216.56,283.98 216.67,284.00 216.78,284.02 216.89,284.04 217.00,284.06 217.11,284.08 217.22,284.10 217.33,284.11 217.44,284.13 217.55,284.15 217.66,284.16 217.77,284.18 217.88,284.19 217.99,284.20 218.11,284.22 218.22,284.23 218.33,284.24 218.44,284.25 218.55,284.26 218.66,284.27 218.77,284.27 218.88,284.28 218.99,284.29 219.10,284.29 219.21,284.30 219.32,284.30 219.43,284.30 219.54,284.30 219.65,284.30 219.77,284.29 219.88,284.28 219.99,284.26 220.10,284.24 220.21,284.21 220.32,284.18 220.43,284.15 220.54,284.11 220.65,284.07 220.76,284.03 220.87,283.98 220.98,283.93 221.09,283.88 221.20,283.83 221.31,283.77 221.42,283.71 221.54,283.65 221.65,283.59 221.76,283.53 221.87,283.47 221.98,283.41 222.09,283.34 222.20,283.28 222.31,283.22 222.42,283.15 222.53,283.09 222.64,283.03 222.75,282.97 222.86,282.91 222.97,282.85 223.08,282.79 223.20,282.74 223.31,282.69 223.42,282.64 223.53,282.58 223.64,282.53 223.75,282.47 223.86,282.42 223.97,282.36 224.08,282.31 224.19,282.25 224.30,282.19 224.41,282.13 224.52,282.07 224.63,282.01 224.74,281.95 224.85,281.89 224.97,281.82 225.08,281.76 225.19,281.70 225.30,281.64 225.41,281.58 225.52,281.51 225.63,281.45 225.74,281.39 225.85,281.33 225.96,281.26 226.07,281.20 226.18,281.14 226.29,281.08 226.40,281.02 226.51,280.95 226.62,280.89 226.74,280.83 226.85,280.78 226.96,280.72 227.07,280.66 227.18,280.60 227.29,280.54 227.40,280.49 227.51,280.43 227.62,280.38 227.73,280.33 227.84,280.28 227.95,280.23 228.06,280.18 228.17,280.13 228.28,280.08 228.40,280.03 228.51,279.99 228.62,279.95 228.73,279.91 228.84,279.87 228.95,279.83 229.06,279.79 229.17,279.75 229.28,279.72 229.39,279.68 229.50,279.65 229.61,279.61 229.72,279.58 229.83,279.55 229.94,279.52 230.05,279.49 230.17,279.45 230.28,279.42 230.39,279.39 230.50,279.36 230.61,279.33 230.72,279.31 230.83,279.28 230.94,279.25 231.05,279.22 231.16,279.19 231.27,279.17 231.38,279.14 231.49,279.11 231.60,279.08 231.71,279.06 231.83,279.03 231.94,279.00 232.05,278.97 232.16,278.95 232.27,278.92 232.38,278.89 232.49,278.86 232.60,278.83 232.71,278.81 232.82,278.78 232.93,278.75 233.04,278.72 233.15,278.69 233.26,278.66 233.37,278.63 233.48,278.59 233.60,278.56 233.71,278.52 233.82,278.48 233.93,278.44 234.04,278.40 234.15,278.36 234.26,278.32 234.37,278.28 234.48,278.24 234.59,278.19 234.70,278.16 234.81,278.12 234.92,278.08 235.03,278.05 235.14,278.01 235.26,277.98 235.37,277.95 235.48,277.93 235.59,277.91 235.70,277.89 235.81,277.87 235.92,277.86 236.03,277.85 236.14,277.85 236.25,277.86 236.36,277.87 236.47,277.88 236.58,277.91 236.69,277.93 236.80,277.97 236.91,278.01 237.03,278.05 237.14,278.10 237.25,278.15 237.36,278.20 237.47,278.26 237.58,278.32 237.69,278.38 237.80,278.45 237.91,278.52 238.02,278.58 238.13,278.65 238.24,278.72 238.35,278.79 238.46,278.86 238.57,278.93 238.69,278.99 238.80,279.06 238.91,279.13 239.02,279.20 239.13,279.28 239.24,279.36 239.35,279.45 239.46,279.53 239.57,279.62 239.68,279.72 239.79,279.81 239.90,279.91 240.01,280.01 240.12,280.11 240.23,280.21 240.34,280.31 240.46,280.41 240.57,280.51 240.68,280.61 240.79,280.71 240.90,280.80 241.01,280.90 241.12,280.99 241.23,281.08 241.34,281.16 241.45,281.25 241.56,281.34 241.67,281.44 241.78,281.53 241.89,281.62 242.00,281.72 242.12,281.82 242.23,281.91 242.34,282.01 242.45,282.11 242.56,282.21 242.67,282.31 242.78,282.41 242.89,282.50 243.00,282.60 243.11,282.70 243.22,282.79 243.33,282.89 243.44,282.98 243.55,283.07 243.66,283.16 243.77,283.25 243.89,283.33 244.00,283.42 244.11,283.50 244.22,283.58 244.33,283.66 244.44,283.73 244.55,283.80 244.66,283.87 244.77,283.93 244.88,283.99 244.99,284.05 245.10,284.10 245.21,284.15 245.32,284.19 245.43,284.23 245.54,284.27 245.66,284.30 245.77,284.33 245.88,284.36 245.99,284.38 246.10,284.41 246.21,284.44 246.32,284.46 246.43,284.49 246.54,284.52 246.65,284.54 246.76,284.57 246.87,284.59 246.98,284.62 247.09,284.64 247.20,284.67 247.32,284.69 247.43,284.72 247.54,284.74 247.65,284.76 247.76,284.79 247.87,284.81 247.98,284.83 248.09,284.85 248.20,284.87 248.31,284.90 248.42,284.92 248.53,284.94 248.64,284.96 248.75,284.98 248.86,285.00 248.97,285.02 249.09,285.04 249.20,285.06 249.31,285.07 249.42,285.09 249.53,285.11 249.64,285.13 249.75,285.14 249.86,285.16 249.97,285.18 250.08,285.19 250.19,285.21 250.30,285.22 250.41,285.24 250.52,285.25 250.63,285.27 250.75,285.28 250.86,285.30 250.97,285.31 251.08,285.32 251.19,285.33 251.30,285.35 251.41,285.36 251.52,285.37 251.63,285.38 251.74,285.39 251.85,285.40 251.96,285.41 252.07,285.42 252.18,285.43 252.29,285.44 252.40,285.44 252.52,285.45 252.63,285.46 252.74,285.46 252.85,285.47 252.96,285.48 253.07,285.48 253.18,285.49 253.29,285.49 253.40,285.49 253.51,285.50 253.62,285.50 253.73,285.50 253.84,285.51 253.95,285.51 254.06,285.51 254.18,285.51 254.29,285.51 254.40,285.51 254.51,285.51 254.62,285.51 254.73,285.51 254.84,285.51 254.95,285.51 255.06,285.51 255.17,285.50 255.28,285.50 255.39,285.50 255.50,285.50 255.61,285.50 255.72,285.50 255.83,285.50 255.95,285.49 256.06,285.49 256.17,285.49 256.28,285.49 256.39,285.49 256.50,285.48 256.61,285.48 256.72,285.48 256.83,285.48 256.94,285.47 257.05,285.47 257.16,285.47 257.27,285.46 257.38,285.46 257.49,285.46 257.61,285.45 257.72,285.45 257.83,285.45 257.94,285.44 258.05,285.44 258.16,285.44 258.27,285.43 258.38,285.43 258.49,285.42 258.60,285.42 258.71,285.42 258.82,285.41 258.93,285.41 259.04,285.40 259.15,285.40 259.26,285.39 259.38,285.39 259.49,285.39 259.60,285.38 259.71,285.38 259.82,285.37 259.93,285.37 260.04,285.36 260.15,285.36 260.26,285.35 260.37,285.35 260.48,285.34 260.59,285.34 260.70,285.33 260.81,285.33 260.92,285.32 261.03,285.32 261.15,285.31 261.26,285.31 261.37,285.30 261.48,285.30 261.59,285.29 261.70,285.28 261.81,285.28 261.92,285.27 262.03,285.27 262.14,285.26 262.25,285.26 262.36,285.25 262.47,285.25 262.58,285.24 262.69,285.24 262.81,285.23 262.92,285.22 263.03,285.22 263.14,285.21 263.25,285.21 263.36,285.20 263.47,285.20 263.58,285.19 263.69,285.19 263.80,285.18 263.91,285.17 264.02,285.17 264.13,285.16 264.24,285.16 264.35,285.15 264.46,285.15 264.58,285.14 264.69,285.14 264.80,285.13 264.91,285.13 265.02,285.12 265.13,285.12 265.24,285.11 265.35,285.11 265.46,285.10 265.57,285.10 265.68,285.09 265.79,285.09 265.90,285.08 266.01,285.08 266.12,285.07 266.24,285.07 266.35,285.06 266.46,285.06 266.57,285.05 266.68,285.05 266.79,285.04 266.90,285.03 267.01,285.03 267.12,285.02 267.23,285.02 267.34,285.01 267.45,285.01 267.56,285.00 267.67,285.00 267.78,284.99 267.89,284.99 268.01,284.98 268.12,284.98 268.23,284.97 268.34,284.97 268.45,284.96 268.56,284.96 268.67,284.95 268.78,284.95 268.89,284.94 269.00,284.94 269.11,284.93 269.22,284.92 269.33,284.92 269.44,284.91 269.55,284.91 269.67,284.90 269.78,284.90 269.89,284.89 270.00,284.89 270.11,284.88 270.22,284.87 270.33,284.87 270.44,284.86 270.55,284.86 270.66,284.85 270.77,284.84 270.88,284.84 270.99,284.83 271.10,284.83 271.21,284.82 271.32,284.81 271.44,284.81 271.55,284.80 271.66,284.79 271.77,284.79 271.88,284.78 271.99,284.77 272.10,284.77 272.21,284.76 272.32,284.75 272.43,284.75 272.54,284.74 272.65,284.73 272.76,284.73 272.87,284.72 272.98,284.71 273.10,284.71 273.21,284.70 273.32,284.69 273.43,284.68 273.54,284.68 273.65,284.67 273.76,284.66 273.87,284.65 273.98,284.65 274.09,284.64 274.20,284.63 274.31,284.62 274.42,284.61 274.53,284.60 274.64,284.60 274.75,284.59 274.87,284.58 274.98,284.57 275.09,284.56 275.20,284.55 275.31,284.54 275.42,284.54 275.53,284.53 275.64,284.52 275.75,284.51 275.86,284.50 275.97,284.49 276.08,284.48 276.19,284.47 276.30,284.46 276.41,284.45 276.52,284.44 276.64,284.43 276.75,284.42 276.86,284.41 276.97,284.40 277.08,284.39 277.19,284.38 277.30,284.37 277.41,284.36 277.52,284.35 277.63,284.33 277.74,284.32 277.85,284.31 277.96,284.30 278.07,284.29 278.18,284.28 278.30,284.26 278.41,284.25 278.52,284.24 278.63,284.22 278.74,284.21 278.85,284.19 278.96,284.17 279.07,284.16 279.18,284.14 279.29,284.12 279.40,284.10 279.51,284.09 279.62,284.07 279.73,284.05 279.84,284.03 279.95,284.01 280.07,283.99 280.18,283.96 280.29,283.94 280.40,283.92 280.51,283.90 280.62,283.87 280.73,283.85 280.84,283.83 280.95,283.80 281.06,283.78 281.17,283.75 281.28,283.73 281.39,283.70 281.50,283.68 281.61,283.65 281.73,283.63 281.84,283.60 281.95,283.57 282.06,283.55 282.17,283.52 282.28,283.49 282.39,283.46 282.50,283.44 282.61,283.41 282.72,283.38 282.83,283.35 282.94,283.32 283.05,283.29 283.16,283.26 283.27,283.23 283.38,283.20 283.50,283.18 283.61,283.15 283.72,283.12 283.83,283.09 283.94,283.06 284.05,283.03 284.16,282.99 284.27,282.96 284.38,282.93 284.49,282.90 284.60,282.87 284.71,282.84 284.82,282.81 284.93,282.78 285.04,282.75 285.16,282.72 285.27,282.69 285.38,282.66 285.49,282.63 285.60,282.60 285.71,282.56 285.82,282.53 285.93,282.50 286.04,282.47 286.15,282.44 286.26,282.41 286.37,282.38 286.48,282.34 286.59,282.31 286.70,282.28 286.81,282.25 286.93,282.21 287.04,282.18 287.15,282.15 287.26,282.12 287.37,282.08 287.48,282.05 287.59,282.01 287.70,281.98 287.81,281.95 287.92,281.91 288.03,281.88 288.14,281.84 288.25,281.81 288.36,281.77 288.47,281.73 288.59,281.70 288.70,281.66 288.81,281.62 288.92,281.58 289.03,281.55 289.14,281.51 289.25,281.47 289.36,281.43 289.47,281.39 289.58,281.35 289.69,281.31 289.80,281.27 289.91,281.23 290.02,281.18 290.13,281.14 290.24,281.10 290.36,281.06 290.47,281.01 290.58,280.97 290.69,280.92 290.80,280.88 290.91,280.83 291.02,280.78 291.13,280.74 291.24,280.69 291.35,280.64 291.46,280.59 291.57,280.54 291.68,280.49 291.79,280.44 291.90,280.39 292.01,280.34 292.13,280.28 292.24,280.23 292.35,280.17 292.46,280.12 292.57,280.06 292.68,280.01 292.79,279.95 292.90,279.89 293.01,279.83 293.12,279.77 293.23,279.71 293.34,279.65 293.45,279.59 293.56,279.53 293.67,279.46 293.79,279.40 293.90,279.33 294.01,279.25 294.12,279.17 294.23,279.09 294.34,279.00 294.45,278.91 294.56,278.82 294.67,278.72 294.78,278.62 294.89,278.51 295.00,278.40 295.11,278.29 295.22,278.18 295.33,278.06 295.44,277.94 295.56,277.82 295.67,277.69 295.78,277.57 295.89,277.44 296.00,277.31 296.11,277.17 296.22,277.04 296.33,276.90 296.44,276.76 296.55,276.62 296.66,276.48 296.77,276.34 296.88,276.19 296.99,276.05 297.10,275.90 297.22,275.75 297.33,275.61 297.44,275.46 297.55,275.31 297.66,275.16 297.77,275.01 297.88,274.86 297.99,274.72 298.10,274.57 298.21,274.42 298.32,274.27 298.43,274.12 298.54,273.98 298.65,273.83 298.76,273.69 298.87,273.54 298.99,273.40 299.10,273.26 299.21,273.12 299.32,272.98 299.43,272.85 299.54,272.71 299.65,272.58 299.76,272.45 299.87,272.32 299.98,272.20 300.09,272.07 300.20,271.95 300.31,271.83 300.42,271.72 300.53,271.61 300.65,271.50 300.76,271.39 300.87,271.29 300.98,271.19 301.09,271.09 301.20,271.00 301.31,270.91 301.42,270.83 301.53,270.74 301.64,270.66 301.75,270.58 301.86,270.51 301.97,270.43 302.08,270.36 302.19,270.29 302.30,270.22 302.42,270.15 302.53,270.09 302.64,270.02 302.75,269.96 302.86,269.90 302.97,269.84 303.08,269.78 303.19,269.72 303.30,269.67 303.41,269.61 303.52,269.55 303.63,269.50 303.74,269.44 303.85,269.39 303.96,269.33 304.07,269.27 304.19,269.22 304.30,269.16 304.41,269.10 304.52,269.05 304.63,268.99 304.74,268.93 304.85,268.87 304.96,268.81 305.07,268.75 305.18,268.69 305.29,268.62 305.40,268.55 305.51,268.49 305.62,268.42 305.73,268.35 305.85,268.27 305.96,268.20 306.07,268.12 306.18,268.04 306.29,267.96 306.40,267.87 306.51,267.78 306.62,267.69 306.73,267.60 306.84,267.50 306.95,267.40 307.06,267.30 307.17,267.19 307.28,267.08 307.39,266.97 307.50,266.85 307.62,266.71 307.73,266.56 307.84,266.40 307.95,266.23 308.06,266.04 308.17,265.85 308.28,265.64 308.39,265.43 308.50,265.20 308.61,264.97 308.72,264.74 308.83,264.50 308.94,264.25 309.05,263.99 309.16,263.74 309.28,263.48 309.39,263.22 309.50,262.95 309.61,262.69 309.72,262.42 309.83,262.15 309.94,261.89 310.05,261.63 310.16,261.36 310.27,261.11 310.38,260.85 310.49,260.60 310.60,260.36 310.71,260.12 310.82,259.89 310.93,259.67 311.05,259.46 311.16,259.25 311.27,259.05 311.38,258.85 311.49,258.65 311.60,258.45 311.71,258.24 311.82,258.03 311.93,257.82 312.04,257.59 312.15,257.36 312.26,257.11 312.37,256.85 312.48,256.58 312.59,256.28 312.71,255.97 312.82,255.64 312.93,255.28 313.04,254.87 313.15,254.35 313.26,253.76 313.37,253.09 313.48,252.35 313.59,251.56 313.70,250.72 313.81,249.85 313.92,248.95 314.03,248.03 314.14,247.10 314.25,246.18 314.36,245.26 314.48,244.37 314.59,243.50 314.70,242.68 314.81,241.90 314.92,241.19 315.03,240.54 315.14,239.97 315.25,239.43 315.36,238.89 315.47,238.34 315.58,237.78 315.69,237.23 315.80,236.68 315.91,236.14 316.02,235.61 316.14,235.10 316.25,234.62 316.36,234.16 316.47,233.73 316.58,233.34 316.69,232.99 316.80,232.67 316.91,232.41 317.02,232.20 317.13,232.04 317.24,231.94 317.35,231.91 317.46,231.94 317.57,232.02 317.68,232.16 317.79,232.34 317.91,232.56 318.02,232.83 318.13,233.13 318.24,233.47 318.35,233.83 318.46,234.22 318.57,234.62 318.68,235.05 318.79,235.49 318.90,235.94 319.01,236.47 319.12,237.16 319.23,237.98 319.34,238.93 319.45,239.98 319.56,241.12 319.68,242.33 319.79,243.60 319.90,244.92 320.01,246.27 320.12,247.63 320.23,248.98 320.34,250.32 320.45,251.63 320.56,252.88 320.67,254.08 320.78,255.26 320.89,256.49 321.00,257.76 321.11,259.04 321.22,260.33 321.34,261.61 321.45,262.86 321.56,264.07 321.67,265.22 321.78,266.30 321.89,267.29 322.00,268.18 322.11,269.01 322.22,269.83 322.33,270.63 322.44,271.41 322.55,272.18 322.66,272.92 322.77,273.64 322.88,274.34 322.99,275.01 323.11,275.65 323.22,276.26 323.33,276.83 323.44,277.37 323.55,277.87 323.66,278.33 323.77,278.76 323.88,279.13 323.99,279.46 324.10,279.77 324.21,280.07 324.32,280.36 324.43,280.64 324.54,280.91 324.65,281.18 324.77,281.43 324.88,281.67 324.99,281.90 325.10,282.12 325.21,282.33 325.32,282.52 325.43,282.70 325.54,282.86 325.65,283.01 325.76,283.14 325.87,283.26 325.98,283.36 326.09,283.43 326.20,283.49 326.31,283.54 326.42,283.59 326.54,283.64 326.65,283.68 326.76,283.73 326.87,283.77 326.98,283.81 327.09,283.85 327.20,283.89 327.31,283.93 327.42,283.96 327.53,283.99 327.64,284.03 327.75,284.06 327.86,284.08 327.97,284.11 328.08,284.14 328.20,284.16 328.31,284.18 328.42,284.20 328.53,284.22 328.64,284.24 328.75,284.25 328.86,284.26 328.97,284.27 329.08,284.28 329.19,284.29 329.30,284.30 329.41,284.30 329.52,284.30 329.63,284.30 329.74,284.30 329.85,284.30 329.97,284.30 330.08,284.30 330.19,284.30 330.30,284.30 330.41,284.30 330.52,284.30 330.63,284.30 330.74,284.30 330.85,284.30 330.96,284.30 331.07,284.30 331.18,284.30 331.29,284.30 331.40,284.30 331.51,284.30 331.63,284.30 331.74,284.30 331.85,284.30 331.96,284.30 332.07,284.30 332.18,284.30 332.29,284.30 332.40,284.30 332.51,284.30 332.62,284.30 332.73,284.30 332.84,284.30 332.95,284.30 333.06,284.30 333.17,284.30 333.28,284.30 333.40,284.30 333.51,284.30 333.62,284.30 333.73,284.30 333.84,284.30 333.95,284.30 334.06,284.30 334.17,284.30 334.28,284.30 334.39,284.30 334.50,284.30 334.61,284.30 334.72,284.30 334.83,284.30 334.94,284.30 335.06,284.30 335.17,284.30 335.28,284.30 335.39,284.30 335.50,284.30 335.61,284.30 335.72,284.30 335.83,284.30 335.94,284.30 336.05,284.30 336.16,284.30 336.27,284.30 336.38,284.30 336.49,284.30 336.60,284.30 336.71,284.30 336.83,284.30 336.94,284.30 337.05,284.30 337.16,284.30 337.27,284.30 337.38,284.30 337.49,284.30 337.60,284.30 337.71,284.30 337.82,284.30 337.93,284.30 338.04,284.30 338.15,284.30 338.26,284.30 338.37,284.30 338.48,284.30 338.60,284.30 338.71,284.30 338.82,284.30 338.93,284.30 339.04,284.30 339.15,284.30 339.26,284.30 339.37,284.30 339.48,284.30 339.59,284.30 339.70,284.30 339.81,284.30 339.92,284.30 340.03,284.30 340.14,284.30 340.26,284.30 340.37,284.30 340.48,284.30 340.59,284.30 340.70,284.30 340.81,284.30 340.92,284.30 341.03,284.30 341.14,284.30 341.25,284.30 341.36,284.30 341.47,284.30 341.58,284.30 341.69,284.30 341.80,284.30 341.91,284.30 342.03,284.30 342.14,284.30 342.25,284.30 342.36,284.30 342.47,284.30 342.58,284.30 342.69,284.30 342.80,284.30" fill="none" stroke="#924424" stroke-width="1.7" stroke-linejoin="round" stroke-linecap="round" />
<polyline points="188.17,248.84 188.28,241.79 188.39,235.34 188.50,229.77 188.61,224.55 188.72,219.68 188.83,215.30 188.94,211.59 189.05,208.64 189.16,206.01 189.27,203.62 189.38,201.51 189.49,199.72 189.60,198.31 189.71,197.28 189.83,196.35 189.94,195.49 190.05,194.70 190.16,194.03 190.27,193.47 190.38,193.08 190.49,192.86 190.60,192.85 190.71,193.20 190.82,193.87 190.93,194.78 191.04,195.84 191.15,196.97 191.26,198.16 191.37,199.80 191.48,201.87 191.60,204.21 191.71,206.65 191.82,209.03 191.93,211.19 192.04,212.96 192.15,214.24 192.26,215.42 192.37,216.57 192.48,217.67 192.59,218.70 192.70,219.62 192.81,220.42 192.92,221.07 193.03,221.53 193.14,221.79 193.26,221.83 193.37,221.81 193.48,221.76 193.59,221.69 193.70,221.60 193.81,221.50 193.92,221.37 194.03,221.24 194.14,221.09 194.25,220.93 194.36,220.77 194.47,220.60 194.58,220.43 194.69,220.26 194.80,220.09 194.91,219.92 195.03,219.75 195.14,219.57 195.25,219.37 195.36,219.14 195.47,218.91 195.58,218.66 195.69,218.41 195.80,218.15 195.91,217.89 196.02,217.63 196.13,217.37 196.24,217.13 196.35,216.89 196.46,216.67 196.57,216.47 196.69,216.29 196.80,216.13 196.91,215.97 197.02,215.80 197.13,215.64 197.24,215.48 197.35,215.34 197.46,215.21 197.57,215.11 197.68,215.03 197.79,214.99 197.90,214.99 198.01,215.07 198.12,215.23 198.23,215.45 198.34,215.73 198.46,216.06 198.57,216.41 198.68,216.79 198.79,217.18 198.90,217.58 199.01,217.96 199.12,218.40 199.23,218.89 199.34,219.44 199.45,220.03 199.56,220.66 199.67,221.32 199.78,222.00 199.89,222.70 200.00,223.41 200.11,224.13 200.23,224.84 200.34,225.54 200.45,226.23 200.56,226.89 200.67,227.52 200.78,228.12 200.89,228.74 201.00,229.39 201.11,230.05 201.22,230.73 201.33,231.41 201.44,232.09 201.55,232.75 201.66,233.40 201.77,234.01 201.89,234.59 202.00,235.12 202.11,235.59 202.22,236.01 202.33,236.36 202.44,236.63 202.55,236.81 202.66,236.98 202.77,237.13 202.88,237.27 202.99,237.40 203.10,237.53 203.21,237.64 203.32,237.74 203.43,237.84 203.54,237.94 203.66,238.02 203.77,238.11 203.88,238.19 203.99,238.26 204.10,238.34 204.21,238.41 204.32,238.49 204.43,238.56 204.54,238.64 204.65,238.71 204.76,238.79 204.87,238.87 204.98,238.94 205.09,239.01 205.20,239.08 205.32,239.14 205.43,239.20 205.54,239.26 205.65,239.32 205.76,239.38 205.87,239.44 205.98,239.51 206.09,239.57 206.20,239.63 206.31,239.70 206.42,239.77 206.53,239.84 206.64,239.92 206.75,240.00 206.86,240.09 206.97,240.19 207.09,240.28 207.20,240.39 207.31,240.49 207.42,240.61 207.53,240.72 207.64,240.83 207.75,240.95 207.86,241.07 207.97,241.19 208.08,241.31 208.19,241.43 208.30,241.55 208.41,241.67 208.52,241.79 208.63,241.90 208.75,242.02 208.86,242.12 208.97,242.23 209.08,242.33 209.19,242.43 209.30,242.53 209.41,242.63 209.52,242.74 209.63,242.85 209.74,242.96 209.85,243.07 209.96,243.18 210.07,243.29 210.18,243.40 210.29,243.51 210.40,243.62 210.52,243.72 210.63,243.82 210.74,243.91 210.85,244.00 210.96,244.08 211.07,244.16 211.18,244.22 211.29,244.28 211.40,244.32 211.51,244.36 211.62,244.39 211.73,244.40 211.84,244.40 211.95,244.39 212.06,244.36 212.18,244.32 212.29,244.27 212.40,244.21 212.51,244.13 212.62,244.05 212.73,243.95 212.84,243.85 212.95,243.74 213.06,243.62 213.17,243.49 213.28,243.36 213.39,243.22 213.50,243.08 213.61,242.93 213.72,242.78 213.83,242.63 213.95,242.48 214.06,242.32 214.17,242.14 214.28,241.94 214.39,241.70 214.50,241.44 214.61,241.16 214.72,240.86 214.83,240.54 214.94,240.20 215.05,239.85 215.16,239.48 215.27,239.10 215.38,238.71 215.49,238.31 215.60,237.90 215.72,237.49 215.83,237.07 215.94,236.65 216.05,236.23 216.16,235.80 216.27,235.39 216.38,234.97 216.49,234.56 216.60,234.16 216.71,233.77 216.82,233.37 216.93,232.95 217.04,232.53 217.15,232.09 217.26,231.65 217.38,231.20 217.49,230.74 217.60,230.28 217.71,229.81 217.82,229.34 217.93,228.86 218.04,228.38 218.15,227.91 218.26,227.43 218.37,226.95 218.48,226.47 218.59,226.00 218.70,225.52 218.81,225.06 218.92,224.60 219.03,224.14 219.15,223.69 219.26,223.25 219.37,222.82 219.48,222.40 219.59,221.99 219.70,221.60 219.81,221.21 219.92,220.84 220.03,220.48 220.14,220.13 220.25,219.77 220.36,219.41 220.47,219.06 220.58,218.70 220.69,218.34 220.81,217.99 220.92,217.64 221.03,217.29 221.14,216.95 221.25,216.61 221.36,216.27 221.47,215.94 221.58,215.62 221.69,215.30 221.80,214.99 221.91,214.69 222.02,214.39 222.13,214.11 222.24,213.83 222.35,213.56 222.46,213.31 222.58,213.06 222.69,212.83 222.80,212.61 222.91,212.40 223.02,212.20 223.13,212.02 223.24,211.85 223.35,211.70 223.46,211.55 223.57,211.40 223.68,211.25 223.79,211.10 223.90,210.96 224.01,210.81 224.12,210.67 224.24,210.53 224.35,210.39 224.46,210.26 224.57,210.12 224.68,210.00 224.79,209.87 224.90,209.75 225.01,209.64 225.12,209.53 225.23,209.43 225.34,209.33 225.45,209.24 225.56,209.15 225.67,209.08 225.78,209.01 225.89,208.94 226.01,208.89 226.12,208.84 226.23,208.80 226.34,208.77 226.45,208.75 226.56,208.74 226.67,208.74 226.78,208.75 226.89,208.78 227.00,208.81 227.11,208.86 227.22,208.92 227.33,208.99 227.44,209.07 227.55,209.17 227.67,209.26 227.78,209.37 227.89,209.49 228.00,209.61 228.11,209.74 228.22,209.87 228.33,210.01 228.44,210.16 228.55,210.31 228.66,210.46 228.77,210.62 228.88,210.78 228.99,210.94 229.10,211.10 229.21,211.26 229.32,211.42 229.44,211.61 229.55,211.81 229.66,212.04 229.77,212.28 229.88,212.55 229.99,212.83 230.10,213.12 230.21,213.43 230.32,213.75 230.43,214.09 230.54,214.43 230.65,214.79 230.76,215.15 230.87,215.51 230.98,215.89 231.09,216.26 231.21,216.64 231.32,217.02 231.43,217.40 231.54,217.78 231.65,218.16 231.76,218.53 231.87,218.90 231.98,219.26 232.09,219.61 232.20,219.96 232.31,220.30 232.42,220.64 232.53,220.99 232.64,221.33 232.75,221.68 232.87,222.03 232.98,222.37 233.09,222.72 233.20,223.07 233.31,223.42 233.42,223.77 233.53,224.12 233.64,224.47 233.75,224.82 233.86,225.18 233.97,225.53 234.08,225.89 234.19,226.25 234.30,226.60 234.41,226.96 234.52,227.33 234.64,227.69 234.75,228.05 234.86,228.42 234.97,228.78 235.08,229.15 235.19,229.52 235.30,229.89 235.41,230.27 235.52,230.64 235.63,231.02 235.74,231.40 235.85,231.78 235.96,232.16 236.07,232.55 236.18,232.93 236.30,233.32 236.41,233.71 236.52,234.10 236.63,234.50 236.74,234.90 236.85,235.30 236.96,235.70 237.07,236.10 237.18,236.51 237.29,236.93 237.40,237.36 237.51,237.79 237.62,238.23 237.73,238.67 237.84,239.12 237.95,239.57 238.07,240.03 238.18,240.49 238.29,240.95 238.40,241.42 238.51,241.89 238.62,242.36 238.73,242.83 238.84,243.30 238.95,243.78 239.06,244.25 239.17,244.72 239.28,245.19 239.39,245.66 239.50,246.13 239.61,246.60 239.73,247.06 239.84,247.52 239.95,247.97 240.06,248.42 240.17,248.87 240.28,249.31 240.39,249.75 240.50,250.18 240.61,250.60 240.72,251.02 240.83,251.42 240.94,251.82 241.05,252.22 241.16,252.61 241.27,253.00 241.38,253.39 241.50,253.78 241.61,254.18 241.72,254.57 241.83,254.96 241.94,255.34 242.05,255.73 242.16,256.11 242.27,256.49 242.38,256.86 242.49,257.24 242.60,257.61 242.71,257.97 242.82,258.33 242.93,258.68 243.04,259.03 243.16,259.37 243.27,259.71 243.38,260.04 243.49,260.36 243.60,260.68 243.71,260.98 243.82,261.28 243.93,261.57 244.04,261.85 244.15,262.12 244.26,262.39 244.37,262.64 244.48,262.89 244.59,263.13 244.70,263.37 244.81,263.61 244.93,263.85 245.04,264.08 245.15,264.31 245.26,264.54 245.37,264.76 245.48,264.99 245.59,265.20 245.70,265.42 245.81,265.63 245.92,265.84 246.03,266.05 246.14,266.25 246.25,266.45 246.36,266.65 246.47,266.84 246.58,267.04 246.70,267.23 246.81,267.41 246.92,267.59 247.03,267.77 247.14,267.95 247.25,268.12 247.36,268.30 247.47,268.46 247.58,268.63 247.69,268.79 247.80,268.95 247.91,269.11 248.02,269.26 248.13,269.41 248.24,269.56 248.36,269.70 248.47,269.84 248.58,269.98 248.69,270.12 248.80,270.25 248.91,270.38 249.02,270.51 249.13,270.63 249.24,270.76 249.35,270.88 249.46,271.00 249.57,271.12 249.68,271.24 249.79,271.35 249.90,271.46 250.01,271.58 250.13,271.69 250.24,271.79 250.35,271.90 250.46,272.01 250.57,272.11 250.68,272.21 250.79,272.31 250.90,272.41 251.01,272.51 251.12,272.61 251.23,272.71 251.34,272.80 251.45,272.89 251.56,272.99 251.67,273.08 251.79,273.17 251.90,273.26 252.01,273.34 252.12,273.43 252.23,273.52 252.34,273.60 252.45,273.69 252.56,273.77 252.67,273.85 252.78,273.94 252.89,274.02 253.00,274.10 253.11,274.18 253.22,274.26 253.33,274.34 253.44,274.42 253.56,274.49 253.67,274.57 253.78,274.65 253.89,274.73 254.00,274.81 254.11,274.89 254.22,274.96 254.33,275.04 254.44,275.12 254.55,275.20 254.66,275.27 254.77,275.35 254.88,275.42 254.99,275.50 255.10,275.57 255.22,275.65 255.33,275.72 255.44,275.79 255.55,275.86 255.66,275.93 255.77,276.00 255.88,276.07 255.99,276.14 256.10,276.21 256.21,276.27 256.32,276.34 256.43,276.40 256.54,276.47 256.65,276.53 256.76,276.59 256.87,276.65 256.99,276.71 257.10,276.77 257.21,276.82 257.32,276.88 257.43,276.93 257.54,276.98 257.65,277.04 257.76,277.09 257.87,277.13 257.98,277.18 258.09,277.23 258.20,277.27 258.31,277.31 258.42,277.35 258.53,277.39 258.65,277.43 258.76,277.46 258.87,277.50 258.98,277.53 259.09,277.56 259.20,277.59 259.31,277.62 259.42,277.65 259.53,277.68 259.64,277.71 259.75,277.73 259.86,277.76 259.97,277.78 260.08,277.81 260.19,277.83 260.30,277.85 260.42,277.88 260.53,277.90 260.64,277.92 260.75,277.94 260.86,277.96 260.97,277.98 261.08,278.00 261.19,278.02 261.30,278.04 261.41,278.06 261.52,278.08 261.63,278.10 261.74,278.12 261.85,278.14 261.96,278.16 262.07,278.18 262.19,278.20 262.30,278.22 262.41,278.24 262.52,278.26 262.63,278.28 262.74,278.30 262.85,278.32 262.96,278.34 263.07,278.37 263.18,278.39 263.29,278.41 263.40,278.44 263.51,278.47 263.62,278.49 263.73,278.52 263.85,278.55 263.96,278.58 264.07,278.61 264.18,278.64 264.29,278.67 264.40,278.71 264.51,278.74 264.62,278.78 264.73,278.83 264.84,278.87 264.95,278.92 265.06,278.96 265.17,279.01 265.28,279.07 265.39,279.12 265.50,279.18 265.62,279.23 265.73,279.29 265.84,279.35 265.95,279.41 266.06,279.47 266.17,279.53 266.28,279.60 266.39,279.66 266.50,279.73 266.61,279.79 266.72,279.86 266.83,279.92 266.94,279.99 267.05,280.05 267.16,280.12 267.28,280.18 267.39,280.25 267.50,280.31 267.61,280.38 267.72,280.44 267.83,280.50 267.94,280.56 268.05,280.62 268.16,280.68 268.27,280.74 268.38,280.80 268.49,280.85 268.60,280.91 268.71,280.96 268.82,281.01 268.93,281.06 269.05,281.11 269.16,281.15 269.27,281.19 269.38,281.23 269.49,281.27 269.60,281.31 269.71,281.34 269.82,281.37 269.93,281.40 270.04,281.42 270.15,281.44 270.26,281.46 270.37,281.47 270.48,281.48 270.59,281.49 270.71,281.50 270.82,281.51 270.93,281.52 271.04,281.53 271.15,281.54 271.26,281.55 271.37,281.56 271.48,281.57 271.59,281.58 271.70,281.59 271.81,281.60 271.92,281.61 272.03,281.62 272.14,281.63 272.25,281.64 272.36,281.65 272.48,281.65 272.59,281.66 272.70,281.67 272.81,281.68 272.92,281.69 273.03,281.69 273.14,281.70 273.25,281.71 273.36,281.72 273.47,281.72 273.58,281.73 273.69,281.74 273.80,281.74 273.91,281.75 274.02,281.76 274.14,281.76 274.25,281.77 274.36,281.78 274.47,281.78 274.58,281.79 274.69,281.79 274.80,281.80 274.91,281.80 275.02,281.81 275.13,281.81 275.24,281.82 275.35,281.82 275.46,281.83 275.57,281.83 275.68,281.84 275.79,281.84 275.91,281.84 276.02,281.85 276.13,281.85 276.24,281.85 276.35,281.86 276.46,281.86 276.57,281.86 276.68,281.86 276.79,281.87 276.90,281.87 277.01,281.87 277.12,281.87 277.23,281.88 277.34,281.88 277.45,281.88 277.56,281.88 277.68,281.88 277.79,281.88 277.90,281.88 278.01,281.88 278.12,281.88 278.23,281.88 278.34,281.88 278.45,281.88 278.56,281.87 278.67,281.87 278.78,281.86 278.89,281.86 279.00,281.85 279.11,281.84 279.22,281.83 279.34,281.82 279.45,281.80 279.56,281.79 279.67,281.77 279.78,281.76 279.89,281.74 280.00,281.72 280.11,281.70 280.22,281.69 280.33,281.66 280.44,281.64 280.55,281.62 280.66,281.60 280.77,281.57 280.88,281.55 280.99,281.52 281.11,281.50 281.22,281.47 281.33,281.44 281.44,281.41 281.55,281.38 281.66,281.35 281.77,281.32 281.88,281.29 281.99,281.26 282.10,281.22 282.21,281.19 282.32,281.16 282.43,281.12 282.54,281.09 282.65,281.05 282.77,281.02 282.88,280.98 282.99,280.94 283.10,280.90 283.21,280.87 283.32,280.83 283.43,280.79 283.54,280.75 283.65,280.71 283.76,280.67 283.87,280.63 283.98,280.59 284.09,280.55 284.20,280.51 284.31,280.47 284.42,280.43 284.54,280.39 284.65,280.35 284.76,280.31 284.87,280.27 284.98,280.22 285.09,280.18 285.20,280.14 285.31,280.10 285.42,280.06 285.53,280.02 285.64,279.97 285.75,279.93 285.86,279.89 285.97,279.85 286.08,279.81 286.20,279.76 286.31,279.72 286.42,279.68 286.53,279.63 286.64,279.58 286.75,279.53 286.86,279.48 286.97,279.43 287.08,279.38 287.19,279.33 287.30,279.28 287.41,279.22 287.52,279.17 287.63,279.11 287.74,279.05 287.85,279.00 287.97,278.94 288.08,278.88 288.19,278.81 288.30,278.75 288.41,278.69 288.52,278.63 288.63,278.56 288.74,278.49 288.85,278.43 288.96,278.36 289.07,278.29 289.18,278.22 289.29,278.15 289.40,278.08 289.51,278.01 289.63,277.93 289.74,277.86 289.85,277.78 289.96,277.71 290.07,277.63 290.18,277.55 290.29,277.47 290.40,277.39 290.51,277.31 290.62,277.23 290.73,277.14 290.84,277.06 290.95,276.98 291.06,276.89 291.17,276.80 291.28,276.72 291.40,276.63 291.51,276.54 291.62,276.45 291.73,276.36 291.84,276.26 291.95,276.17 292.06,276.08 292.17,275.98 292.28,275.89 292.39,275.79 292.50,275.69 292.61,275.59 292.72,275.49 292.83,275.39 292.94,275.28 293.05,275.17 293.17,275.04 293.28,274.91 293.39,274.77 293.50,274.62 293.61,274.47 293.72,274.31 293.83,274.15 293.94,273.98 294.05,273.80 294.16,273.63 294.27,273.44 294.38,273.26 294.49,273.07 294.60,272.88 294.71,272.68 294.83,272.48 294.94,272.29 295.05,272.09 295.16,271.89 295.27,271.69 295.38,271.49 295.49,271.29 295.60,271.09 295.71,270.90 295.82,270.70 295.93,270.51 296.04,270.32 296.15,270.13 296.26,269.95 296.37,269.77 296.48,269.59 296.60,269.42 296.71,269.26 296.82,269.10 296.93,268.94 297.04,268.79 297.15,268.65 297.26,268.52 297.37,268.39 297.48,268.27 297.59,268.16 297.70,268.06 297.81,267.97 297.92,267.89 298.03,267.82 298.14,267.75 298.26,267.69 298.37,267.64 298.48,267.58 298.59,267.53 298.70,267.48 298.81,267.43 298.92,267.38 299.03,267.34 299.14,267.29 299.25,267.25 299.36,267.21 299.47,267.17 299.58,267.13 299.69,267.09 299.80,267.06 299.91,267.02 300.03,266.99 300.14,266.95 300.25,266.92 300.36,266.89 300.47,266.86 300.58,266.82 300.69,266.79 300.80,266.76 300.91,266.73 301.02,266.70 301.13,266.67 301.24,266.64 301.35,266.61 301.46,266.58 301.57,266.54 301.69,266.51 301.80,266.48 301.91,266.45 302.02,266.41 302.13,266.38 302.24,266.34 302.35,266.31 302.46,266.27 302.57,266.23 302.68,266.19 302.79,266.15 302.90,266.11 303.01,266.07 303.12,266.03 303.23,265.99 303.34,265.96 303.46,265.92 303.57,265.88 303.68,265.85 303.79,265.81 303.90,265.78 304.01,265.74 304.12,265.70 304.23,265.67 304.34,265.63 304.45,265.59 304.56,265.56 304.67,265.52 304.78,265.48 304.89,265.44 305.00,265.40 305.12,265.36 305.23,265.32 305.34,265.27 305.45,265.23 305.56,265.18 305.67,265.13 305.78,265.08 305.89,265.03 306.00,264.97 306.11,264.91 306.22,264.86 306.33,264.79 306.44,264.73 306.55,264.66 306.66,264.60 306.77,264.52 306.89,264.44 307.00,264.36 307.11,264.27 307.22,264.16 307.33,264.06 307.44,263.94 307.55,263.82 307.66,263.69 307.77,263.56 307.88,263.41 307.99,263.27 308.10,263.11 308.21,262.95 308.32,262.79 308.43,262.61 308.54,262.44 308.66,262.25 308.77,262.07 308.88,261.87 308.99,261.67 309.10,261.47 309.21,261.26 309.32,261.04 309.43,260.82 309.54,260.60 309.65,260.37 309.76,260.14 309.87,259.90 309.98,259.66 310.09,259.42 310.20,259.17 310.32,258.92 310.43,258.66 310.54,258.40 310.65,258.10 310.76,257.77 310.87,257.40 310.98,257.00 311.09,256.58 311.20,256.14 311.31,255.67 311.42,255.20 311.53,254.71 311.64,254.22 311.75,253.73 311.86,253.24 311.97,252.76 312.09,252.29 312.20,251.83 312.31,251.40 312.42,250.98 312.53,250.60 312.64,250.24 312.75,249.92 312.86,249.58 312.97,249.24 313.08,248.89 313.19,248.54 313.30,248.20 313.41,247.87 313.52,247.56 313.63,247.27 313.75,247.01 313.86,246.80 313.97,246.62 314.08,246.50 314.19,246.43 314.30,246.42 314.41,246.49 314.52,246.61 314.63,246.79 314.74,247.02 314.85,247.29 314.96,247.59 315.07,247.92 315.18,248.26 315.29,248.62 315.40,248.99 315.52,249.46 315.63,250.04 315.74,250.72 315.85,251.47 315.96,252.30 316.07,253.18 316.18,254.09 316.29,255.03 316.40,255.99 316.51,256.94 316.62,257.87 316.73,258.77 316.84,259.63 316.95,260.44 317.06,261.25 317.18,262.09 317.29,262.93 317.40,263.78 317.51,264.64 317.62,265.49 317.73,266.34 317.84,267.18 317.95,268.00 318.06,268.79 318.17,269.56 318.28,270.30 318.39,271.00 318.50,271.66 318.61,272.27 318.72,272.83 318.83,273.38 318.95,273.93 319.06,274.46 319.17,274.98 319.28,275.50 319.39,275.99 319.50,276.48 319.61,276.95 319.72,277.39 319.83,277.82 319.94,278.23 320.05,278.62 320.16,278.98 320.27,279.31 320.38,279.62 320.49,279.89 320.61,280.14 320.72,280.35 320.83,280.56 320.94,280.76 321.05,280.95 321.16,281.14 321.27,281.33 321.38,281.50 321.49,281.68 321.60,281.84 321.71,282.00 321.82,282.16 321.93,282.30 322.04,282.44 322.15,282.57 322.26,282.70 322.38,282.82 322.49,282.93 322.60,283.03 322.71,283.12 322.82,283.21 322.93,283.29 323.04,283.36 323.15,283.42 323.26,283.47 323.37,283.51 323.48,283.55 323.59,283.59 323.70,283.63 323.81,283.67 323.92,283.71 324.03,283.74 324.15,283.78 324.26,283.82 324.37,283.85 324.48,283.89 324.59,283.92 324.70,283.96 324.81,283.99 324.92,284.02 325.03,284.05 325.14,284.08 325.25,284.11 325.36,284.14 325.47,284.17 325.58,284.20 325.69,284.23 325.81,284.25 325.92,284.28 326.03,284.30 326.14,284.33 326.25,284.35 326.36,284.37 326.47,284.40 326.58,284.42 326.69,284.44 326.80,284.46 326.91,284.48 327.02,284.50 327.13,284.51 327.24,284.53 327.35,284.55 327.46,284.56 327.58,284.58 327.69,284.59 327.80,284.60 327.91,284.62 328.02,284.63 328.13,284.64 328.24,284.65 328.35,284.66 328.46,284.66 328.57,284.67 328.68,284.68 328.79,284.68 328.90,284.69 329.01,284.69 329.12,284.70 329.24,284.70 329.35,284.70 329.46,284.70 329.57,284.70 329.68,284.70 329.79,284.70 329.90,284.70 330.01,284.70 330.12,284.70 330.23,284.70 330.34,284.70 330.45,284.70 330.56,284.70 330.67,284.70 330.78,284.70 330.89,284.70 331.01,284.70 331.12,284.70 331.23,284.70 331.34,284.70 331.45,284.70 331.56,284.70 331.67,284.70 331.78,284.70 331.89,284.70 332.00,284.70 332.11,284.70 332.22,284.70 332.33,284.70 332.44,284.70 332.55,284.70 332.67,284.70 332.78,284.70 332.89,284.70 333.00,284.70 333.11,284.70 333.22,284.70 333.33,284.70 333.44,284.70 333.55,284.70 333.66,284.70 333.77,284.70 333.88,284.70 333.99,284.70 334.10,284.70 334.21,284.70 334.32,284.70 334.44,284.70 334.55,284.70 334.66,284.70 334.77,284.70 334.88,284.70 334.99,284.70 335.10,284.70 335.21,284.70 335.32,284.70 335.43,284.70 335.54,284.70 335.65,284.70 335.76,284.70 335.87,284.70 335.98,284.70 336.10,284.70 336.21,284.70 336.32,284.67 336.43,284.62 336.54,284.55 336.65,284.45 336.76,284.34 336.87,284.22 336.98,284.08 337.09,283.94 337.20,283.79 337.31,283.64 337.42,283.49 337.53,283.34 337.64,283.20 337.75,283.07 337.87,282.96 337.98,282.86 338.09,282.78 338.20,282.72 338.31,282.69 338.42,282.69 338.53,282.69 338.64,282.70 338.75,282.72 338.86,282.74 338.97,282.76 339.08,282.79 339.19,282.81 339.30,282.84 339.41,282.87 339.52,282.90 339.64,282.93 339.75,282.96 339.86,282.99 339.97,283.01 340.08,283.04 340.19,283.06 340.30,283.07 340.41,283.08 340.52,283.09 340.63,283.09 340.74,283.09 340.85,283.09 340.96,283.09 341.07,283.09 341.18,283.09 341.30,283.09 341.41,283.09 341.52,283.09 341.63,283.09 341.74,283.09 341.85,283.09 341.96,283.09 342.07,283.09 342.18,283.09 342.29,283.09 342.40,283.09 342.51,283.09 342.62,283.09 342.73,283.09" fill="none" stroke="#2a1eb8" stroke-width="1.75" stroke-linejoin="round" stroke-linecap="round" />
</g>
<defs><linearGradient id="gT" x1="0" x2="1" y1="0" y2="0"><stop offset="0" stop-color="#0f9274"/><stop offset="0.45" stop-color="#2cc29c"/><stop offset="1" stop-color="#139a7a"/></linearGradient><linearGradient id="gY" x1="0" x2="0" y1="0" y2="1"><stop offset="0" stop-color="#dde4a8"/><stop offset="0.6" stop-color="#d2e050"/><stop offset="1" stop-color="#c6dc30"/></linearGradient><linearGradient id="gB" x1="0" x2="1" y1="0" y2="0"><stop offset="0" stop-color="#b4e2cc"/><stop offset="0.12" stop-color="#b8e0cc"/><stop offset="0.36" stop-color="#c6cfc8"/><stop offset="0.5" stop-color="#cdd1c9"/><stop offset="1" stop-color="#d3d6cf"/></linearGradient></defs>
<rect x="247.4" y="205.4" width="49.599999999999994" height="58.599999999999994" fill="url(#gB)"/>
<rect x="247.4" y="205.4" width="49.599999999999994" height="11" fill="#d6dad4" opacity="0.7"/>
<path d="M254.0,217.6 L265.0,217.6 L264.4,236 L263.0,250 L261.4,258.5 L259.6,261.2 L257.8,258.5 L256.0,250 L254.6,236 Z" fill="url(#gT)"/>
<path d="M277.2,217.6 L290.4,217.6 L289.6,234 L287.8,248 L285.6,257.5 L283.8,260.2 L282.0,257.5 L279.8,248 L278.0,234 Z" fill="url(#gY)"/>
<text x="259.6" y="215.4" font-family='"Liberation Sans", sans-serif' font-size="7.2" font-weight="bold" fill="#111" text-anchor="middle" textLength="19.4" lengthAdjust="spacingAndGlyphs">CyOH</text>
<text x="283.4" y="215.4" font-family='"Liberation Sans", sans-serif' font-size="7.2" font-weight="bold" fill="#111" text-anchor="middle" textLength="17" lengthAdjust="spacingAndGlyphs">CyCD</text>
<rect x="187.9" y="173.4" width="154.9" height="115.9" fill="none" stroke="#000" stroke-width="1.3"/>
<line x1="184.20000000000002" y1="284.3" x2="187.9" y2="284.3" stroke="#000" stroke-width="1" />
<text x="183.70000000000002" y="286.5" font-family='"Liberation Sans", sans-serif' font-size="8.4" font-weight="bold" fill="#222" text-anchor="end" >0.0</text>
<line x1="184.20000000000002" y1="264.15000000000003" x2="187.9" y2="264.15000000000003" stroke="#000" stroke-width="1" />
<text x="183.70000000000002" y="266.35" font-family='"Liberation Sans", sans-serif' font-size="8.4" font-weight="bold" fill="#222" text-anchor="end" >0.5</text>
<line x1="184.20000000000002" y1="244.0" x2="187.9" y2="244.0" stroke="#000" stroke-width="1" />
<text x="183.70000000000002" y="246.2" font-family='"Liberation Sans", sans-serif' font-size="8.4" font-weight="bold" fill="#222" text-anchor="end" >1.0</text>
<line x1="184.20000000000002" y1="223.85000000000002" x2="187.9" y2="223.85000000000002" stroke="#000" stroke-width="1" />
<text x="183.70000000000002" y="226.05" font-family='"Liberation Sans", sans-serif' font-size="8.4" font-weight="bold" fill="#222" text-anchor="end" >1.5</text>
<line x1="184.20000000000002" y1="203.70000000000002" x2="187.9" y2="203.70000000000002" stroke="#000" stroke-width="1" />
<text x="183.70000000000002" y="205.9" font-family='"Liberation Sans", sans-serif' font-size="8.4" font-weight="bold" fill="#222" text-anchor="end" >2.0</text>
<line x1="184.20000000000002" y1="183.55" x2="187.9" y2="183.55" stroke="#000" stroke-width="1" />
<text x="183.70000000000002" y="185.75" font-family='"Liberation Sans", sans-serif' font-size="8.4" font-weight="bold" fill="#222" text-anchor="end" >2.5</text>
<line x1="186.4" y1="274.225" x2="187.9" y2="274.225" stroke="#000" stroke-width="0.8" />
<line x1="186.4" y1="254.07500000000002" x2="187.9" y2="254.07500000000002" stroke="#000" stroke-width="0.8" />
<line x1="186.4" y1="233.925" x2="187.9" y2="233.925" stroke="#000" stroke-width="0.8" />
<line x1="186.4" y1="213.77500000000003" x2="187.9" y2="213.77500000000003" stroke="#000" stroke-width="0.8" />
<line x1="186.4" y1="193.625" x2="187.9" y2="193.625" stroke="#000" stroke-width="0.8" />
<line x1="187.9" y1="289.3" x2="187.9" y2="291.8" stroke="#000" stroke-width="1" />
<text x="187.9" y="300.0" font-family='"Liberation Sans", sans-serif' font-size="8.6" font-weight="bold" fill="#222" text-anchor="middle" >200</text>
<line x1="210.02857142857144" y1="289.3" x2="210.02857142857144" y2="291.8" stroke="#000" stroke-width="1" />
<text x="210.02857142857144" y="300.0" font-family='"Liberation Sans", sans-serif' font-size="8.6" font-weight="bold" fill="#222" text-anchor="middle" >300</text>
<line x1="232.15714285714287" y1="289.3" x2="232.15714285714287" y2="291.8" stroke="#000" stroke-width="1" />
<text x="232.15714285714287" y="300.0" font-family='"Liberation Sans", sans-serif' font-size="8.6" font-weight="bold" fill="#222" text-anchor="middle" >400</text>
<line x1="254.28571428571428" y1="289.3" x2="254.28571428571428" y2="291.8" stroke="#000" stroke-width="1" />
<text x="254.28571428571428" y="300.0" font-family='"Liberation Sans", sans-serif' font-size="8.6" font-weight="bold" fill="#222" text-anchor="middle" >500</text>
<line x1="276.4142857142857" y1="289.3" x2="276.4142857142857" y2="291.8" stroke="#000" stroke-width="1" />
<text x="276.4142857142857" y="300.0" font-family='"Liberation Sans", sans-serif' font-size="8.6" font-weight="bold" fill="#222" text-anchor="middle" >600</text>
<line x1="298.54285714285714" y1="289.3" x2="298.54285714285714" y2="291.8" stroke="#000" stroke-width="1" />
<text x="298.54285714285714" y="300.0" font-family='"Liberation Sans", sans-serif' font-size="8.6" font-weight="bold" fill="#222" text-anchor="middle" >700</text>
<line x1="320.6714285714286" y1="289.3" x2="320.6714285714286" y2="291.8" stroke="#000" stroke-width="1" />
<text x="320.6714285714286" y="300.0" font-family='"Liberation Sans", sans-serif' font-size="8.6" font-weight="bold" fill="#222" text-anchor="middle" >800</text>
<line x1="342.8" y1="289.3" x2="342.8" y2="291.8" stroke="#000" stroke-width="1" />
<text x="342.8" y="300.0" font-family='"Liberation Sans", sans-serif' font-size="8.6" font-weight="bold" fill="#222" text-anchor="middle" >900</text>
<line x1="198.96428571428572" y1="289.3" x2="198.96428571428572" y2="290.8" stroke="#000" stroke-width="0.8" />
<line x1="221.09285714285716" y1="289.3" x2="221.09285714285716" y2="290.8" stroke="#000" stroke-width="0.8" />
<line x1="243.2214285714286" y1="289.3" x2="243.2214285714286" y2="290.8" stroke="#000" stroke-width="0.8" />
<line x1="265.35" y1="289.3" x2="265.35" y2="290.8" stroke="#000" stroke-width="0.8" />
<line x1="287.4785714285714" y1="289.3" x2="287.4785714285714" y2="290.8" stroke="#000" stroke-width="0.8" />
<line x1="309.6071428571429" y1="289.3" x2="309.6071428571429" y2="290.8" stroke="#000" stroke-width="0.8" />
<line x1="331.73571428571427" y1="289.3" x2="331.73571428571427" y2="290.8" stroke="#000" stroke-width="0.8" />
<text x="218.8" y="310.6" font-family='"Liberation Sans", sans-serif' font-size="11.9" font-weight="bold" fill="#111" text-anchor="start" textLength="66.4" lengthAdjust="spacingAndGlyphs" >Wavelength</text>
<text x="287.8" y="310.6" font-family='"Liberation Sans", sans-serif' font-size="9.8" font-weight="bold" fill="#111" text-anchor="start" textLength="23.8" lengthAdjust="spacingAndGlyphs" >(nm)</text>
<text transform="translate(168.2,246.2) rotate(-90)" font-family='"Liberation Sans", sans-serif' font-size="11.6" font-weight="bold" fill="#111">Abs</text>
<line x1="268.6" y1="179.7" x2="279.7" y2="179.7" stroke="#111" stroke-width="1.5" />
<text x="281.4" y="182.6" font-family='"Liberation Sans", sans-serif' font-size="8.8" font-weight="bold" fill="#111" text-anchor="start" >CyOH</text>
<line x1="268.6" y1="190.45" x2="279.7" y2="190.45" stroke="#924424" stroke-width="1.5" />
<text x="281.4" y="193.35" font-family='"Liberation Sans", sans-serif' font-size="8.8" font-weight="bold" fill="#111" text-anchor="start" >CyCD</text>
<line x1="268.6" y1="201.2" x2="279.7" y2="201.2" stroke="#2a1eb8" stroke-width="1.5" />
<text x="281.4" y="204.1" font-family='"Liberation Sans", sans-serif' font-size="8.8" font-weight="bold" fill="#111" text-anchor="start" >CyNPs</text>
<rect x="430" y="205" width="25" height="80" fill="#fdf0f8"/>
<rect x="455" y="245" width="30" height="40" fill="#fdf0f8"/>
<polyline points="376.90,282.69 377.39,282.69 377.87,282.68 378.36,282.67 378.85,282.65 379.34,282.63 379.82,282.61 380.31,282.58 380.80,282.55 381.28,282.51 381.77,282.47 382.26,282.43 382.75,282.39 383.23,282.34 383.72,282.29 384.21,282.23 384.69,282.18 385.18,282.12 385.67,282.06 386.16,281.99 386.64,281.93 387.13,281.86 387.62,281.79 388.11,281.72 388.59,281.64 389.08,281.57 389.57,281.49 390.05,281.42 390.54,281.34 391.03,281.26 391.52,281.18 392.00,281.10 392.49,281.01 392.98,280.93 393.46,280.85 393.95,280.77 394.44,280.68 394.93,280.59 395.41,280.50 395.90,280.39 396.39,280.28 396.87,280.16 397.36,280.04 397.85,279.91 398.34,279.77 398.82,279.63 399.31,279.48 399.80,279.33 400.28,279.17 400.77,279.01 401.26,278.85 401.75,278.69 402.23,278.52 402.72,278.35 403.21,278.18 403.70,278.01 404.18,277.84 404.67,277.67 405.16,277.50 405.64,277.33 406.13,277.16 406.62,277.00 407.11,276.83 407.59,276.67 408.08,276.50 408.57,276.33 409.05,276.16 409.54,275.99 410.03,275.81 410.52,275.63 411.00,275.44 411.49,275.24 411.98,275.04 412.46,274.83 412.95,274.61 413.44,274.39 413.93,274.15 414.41,273.90 414.90,273.63 415.39,273.34 415.88,273.04 416.36,272.72 416.85,272.39 417.34,272.05 417.82,271.70 418.31,271.34 418.80,270.97 419.29,270.59 419.77,270.21 420.26,269.82 420.75,269.43 421.23,269.04 421.72,268.64 422.21,268.23 422.70,267.82 423.18,267.39 423.67,266.95 424.16,266.50 424.64,266.04 425.13,265.56 425.62,265.06 426.11,264.54 426.59,263.99 427.08,263.43 427.57,262.84 428.05,262.23 428.54,261.59 429.03,260.92 429.52,260.21 430.00,259.46 430.49,258.67 430.98,257.83 431.46,256.93 431.95,255.98 432.44,254.96 432.93,253.87 433.41,252.72 433.90,251.48 434.39,250.16 434.88,248.73 435.36,246.97 435.85,244.87 436.34,242.52 436.82,239.96 437.31,237.26 437.80,234.50 438.29,231.72 438.77,228.99 439.26,226.39 439.75,223.93 440.23,221.44 440.72,218.86 441.21,216.25 441.70,213.62 442.18,211.01 442.67,208.46 443.16,205.98 443.64,203.61 444.13,201.38 444.62,199.32 445.11,197.47 445.59,195.82 446.08,194.23 446.57,192.68 447.05,191.21 447.54,189.86 448.03,188.65 448.52,187.64 449.00,186.86 449.49,186.32 449.98,185.85 450.47,185.40 450.95,185.00 451.44,184.63 451.93,184.32 452.41,184.06 452.90,183.86 453.39,183.74 453.88,183.70 454.36,183.74 454.85,183.85 455.34,184.03 455.82,184.28 456.31,184.58 456.80,184.93 457.29,185.32 457.77,185.75 458.26,186.22 458.75,186.70 459.23,187.21 459.72,187.80 460.21,188.60 460.70,189.57 461.18,190.70 461.67,191.95 462.16,193.30 462.64,194.71 463.13,196.17 463.62,197.72 464.11,199.52 464.59,201.52 465.08,203.70 465.57,206.02 466.06,208.44 466.54,210.94 467.03,213.48 467.52,216.01 468.00,218.52 468.49,220.96 468.98,223.30 469.47,225.50 469.95,227.54 470.44,229.43 470.93,231.28 471.41,233.10 471.90,234.88 472.39,236.62 472.88,238.33 473.36,239.99 473.85,241.61 474.34,243.19 474.82,244.72 475.31,246.20 475.80,247.64 476.29,249.02 476.77,250.37 477.26,251.69 477.75,252.99 478.23,254.25 478.72,255.48 479.21,256.68 479.70,257.85 480.18,258.98 480.67,260.08 481.16,261.14 481.65,262.17 482.13,263.15 482.62,264.10 483.11,265.02 483.59,265.94 484.08,266.84 484.57,267.73 485.06,268.59 485.54,269.43 486.03,270.23 486.52,271.00 487.00,271.73 487.49,272.42 487.98,273.05 488.47,273.63 488.95,274.15 489.44,274.64 489.93,275.11 490.41,275.58 490.90,276.03 491.39,276.47 491.88,276.89 492.36,277.29 492.85,277.67 493.34,278.03 493.82,278.37 494.31,278.68 494.80,278.96 495.29,279.21 495.77,279.44 496.26,279.62 496.75,279.78 497.24,279.91 497.72,280.04 498.21,280.16 498.70,280.28 499.18,280.40 499.67,280.51 500.16,280.62 500.65,280.72 501.13,280.82 501.62,280.91 502.11,281.00 502.59,281.08 503.08,281.16 503.57,281.23 504.06,281.30 504.54,281.36 505.03,281.42 505.52,281.48 506.00,281.52 506.49,281.57 506.98,281.60 507.47,281.64 507.95,281.67 508.44,281.69 508.93,281.71 509.41,281.73 509.90,281.74 510.39,281.76 510.88,281.78 511.36,281.80 511.85,281.82 512.34,281.83 512.83,281.85 513.31,281.87 513.80,281.88 514.29,281.90 514.77,281.91 515.26,281.93 515.75,281.94 516.24,281.95 516.72,281.97 517.21,281.98 517.70,281.99 518.18,282.01 518.67,282.02 519.16,282.03 519.65,282.04 520.13,282.05 520.62,282.06 521.11,282.07 521.59,282.08 522.08,282.09 522.57,282.10 523.06,282.11 523.54,282.12 524.03,282.12 524.52,282.13 525.00,282.14 525.49,282.14 525.98,282.15 526.47,282.15 526.95,282.16 527.44,282.16 527.93,282.17 528.42,282.17 528.90,282.18 529.39,282.18 529.88,282.18 530.36,282.18 530.85,282.19 531.34,282.19 531.83,282.19 532.31,282.19 532.80,282.19" fill="none" stroke="#924424" stroke-width="1.5" stroke-linejoin="round" stroke-linecap="round" />
<polyline points="376.90,277.37 377.39,277.51 377.87,277.66 378.36,277.80 378.85,277.94 379.34,278.07 379.82,278.21 380.31,278.34 380.80,278.47 381.28,278.59 381.77,278.72 382.26,278.84 382.75,278.95 383.23,279.07 383.72,279.18 384.21,279.29 384.69,279.40 385.18,279.52 385.67,279.64 386.16,279.76 386.64,279.88 387.13,279.99 387.62,280.10 388.11,280.21 388.59,280.30 389.08,280.38 389.57,280.45 390.05,280.51 390.54,280.55 391.03,280.58 391.52,280.59 392.00,280.59 392.49,280.60 392.98,280.61 393.46,280.61 393.95,280.62 394.44,280.62 394.93,280.63 395.41,280.63 395.90,280.64 396.39,280.64 396.87,280.65 397.36,280.65 397.85,280.65 398.34,280.66 398.82,280.66 399.31,280.66 399.80,280.67 400.28,280.67 400.77,280.67 401.26,280.67 401.75,280.67 402.23,280.68 402.72,280.68 403.21,280.68 403.70,280.68 404.18,280.68 404.67,280.68 405.16,280.68 405.64,280.68 406.13,280.68 406.62,280.68 407.11,280.68 407.59,280.68 408.08,280.68 408.57,280.67 409.05,280.67 409.54,280.66 410.03,280.66 410.52,280.65 411.00,280.64 411.49,280.64 411.98,280.63 412.46,280.62 412.95,280.61 413.44,280.60 413.93,280.59 414.41,280.58 414.90,280.56 415.39,280.55 415.88,280.54 416.36,280.53 416.85,280.51 417.34,280.50 417.82,280.48 418.31,280.47 418.80,280.45 419.29,280.43 419.77,280.42 420.26,280.40 420.75,280.38 421.23,280.36 421.72,280.34 422.21,280.32 422.70,280.30 423.18,280.28 423.67,280.26 424.16,280.24 424.64,280.22 425.13,280.20 425.62,280.18 426.11,280.16 426.59,280.13 427.08,280.10 427.57,280.07 428.05,280.03 428.54,280.00 429.03,279.96 429.52,279.91 430.00,279.86 430.49,279.82 430.98,279.76 431.46,279.71 431.95,279.65 432.44,279.59 432.93,279.53 433.41,279.46 433.90,279.39 434.39,279.32 434.88,279.25 435.36,279.18 435.85,279.10 436.34,279.01 436.82,278.93 437.31,278.84 437.80,278.74 438.29,278.63 438.77,278.51 439.26,278.39 439.75,278.25 440.23,278.10 440.72,277.94 441.21,277.76 441.70,277.57 442.18,277.36 442.67,277.13 443.16,276.89 443.64,276.63 444.13,276.33 444.62,275.87 445.11,275.22 445.59,274.42 446.08,273.48 446.57,272.42 447.05,271.26 447.54,270.03 448.03,268.75 448.52,267.44 449.00,266.11 449.49,264.67 449.98,263.04 450.47,261.23 450.95,259.28 451.44,257.23 451.93,255.09 452.41,252.92 452.90,250.73 453.39,248.55 453.88,246.43 454.36,244.35 454.85,242.27 455.34,240.17 455.82,238.05 456.31,235.90 456.80,233.72 457.29,231.49 457.77,229.20 458.26,226.86 458.75,224.43 459.23,221.83 459.72,219.10 460.21,216.28 460.70,213.42 461.18,210.57 461.67,207.77 462.16,205.09 462.64,202.55 463.13,200.22 463.62,198.03 464.11,195.86 464.59,193.84 465.08,192.09 465.57,190.73 466.06,189.63 466.54,188.56 467.03,187.53 467.52,186.58 468.00,185.72 468.49,184.99 468.98,184.40 469.47,183.97 469.95,183.74 470.44,183.72 470.93,183.94 471.41,184.36 471.90,184.95 472.39,185.65 472.88,186.42 473.36,187.22 473.85,188.19 474.34,189.45 474.82,190.92 475.31,192.54 475.80,194.24 476.29,195.93 476.77,197.62 477.26,199.38 477.75,201.23 478.23,203.14 478.72,205.10 479.21,207.12 479.70,209.17 480.18,211.25 480.67,213.35 481.16,215.46 481.65,217.57 482.13,219.73 482.62,221.99 483.11,224.32 483.59,226.69 484.08,229.09 484.57,231.47 485.06,233.83 485.54,236.12 486.03,238.33 486.52,240.43 487.00,242.39 487.49,244.28 487.98,246.16 488.47,248.02 488.95,249.84 489.44,251.61 489.93,253.31 490.41,254.92 490.90,256.43 491.39,257.82 491.88,259.08 492.36,260.18 492.85,261.19 493.34,262.16 493.82,263.10 494.31,264.01 494.80,264.87 495.29,265.70 495.77,266.48 496.26,267.22 496.75,267.91 497.24,268.56 497.72,269.15 498.21,269.69 498.70,270.17 499.18,270.60 499.67,270.98 500.16,271.33 500.65,271.66 501.13,271.98 501.62,272.29 502.11,272.58 502.59,272.85 503.08,273.11 503.57,273.36 504.06,273.60 504.54,273.82 505.03,274.03 505.52,274.22 506.00,274.41 506.49,274.59 506.98,274.75 507.47,274.90 507.95,275.05 508.44,275.18 508.93,275.31 509.41,275.43 509.90,275.54 510.39,275.66 510.88,275.76 511.36,275.86 511.85,275.96 512.34,276.05 512.83,276.14 513.31,276.23 513.80,276.31 514.29,276.39 514.77,276.47 515.26,276.54 515.75,276.62 516.24,276.69 516.72,276.76 517.21,276.83 517.70,276.90 518.18,276.96 518.67,277.03 519.16,277.09 519.65,277.14 520.13,277.18 520.62,277.23 521.11,277.27 521.59,277.31 522.08,277.35 522.57,277.40 523.06,277.44 523.54,277.49 524.03,277.55 524.52,277.61 525.00,277.68 525.49,277.76 525.98,277.85 526.47,277.96 526.95,278.13 527.44,278.34 527.93,278.58 528.42,278.85 528.90,279.13 529.39,279.41 529.88,279.68 530.36,279.95 530.85,280.23 531.34,280.53 531.83,280.84 532.31,281.16 532.80,281.49" fill="none" stroke="#111" stroke-width="1.5" stroke-linejoin="round" stroke-linecap="round" />
<polyline points="376.90,277.37 377.39,277.34 377.87,277.31 378.36,277.27 378.85,277.23 379.34,277.19 379.82,277.14 380.31,277.09 380.80,277.03 381.28,276.97 381.77,276.91 382.26,276.84 382.75,276.78 383.23,276.71 383.72,276.63 384.21,276.56 384.69,276.48 385.18,276.40 385.67,276.32 386.16,276.24 386.64,276.16 387.13,276.07 387.62,275.98 388.11,275.88 388.59,275.77 389.08,275.66 389.57,275.54 390.05,275.42 390.54,275.29 391.03,275.16 391.52,275.02 392.00,274.88 392.49,274.74 392.98,274.60 393.46,274.45 393.95,274.30 394.44,274.15 394.93,274.00 395.41,273.85 395.90,273.69 396.39,273.54 396.87,273.38 397.36,273.21 397.85,273.04 398.34,272.87 398.82,272.69 399.31,272.50 399.80,272.30 400.28,272.09 400.77,271.87 401.26,271.64 401.75,271.39 402.23,271.13 402.72,270.85 403.21,270.52 403.70,270.16 404.18,269.77 404.67,269.36 405.16,268.93 405.64,268.48 406.13,268.03 406.62,267.57 407.11,267.12 407.59,266.66 408.08,266.20 408.57,265.73 409.05,265.25 409.54,264.74 410.03,264.21 410.52,263.65 411.00,263.05 411.49,262.40 411.98,261.72 412.46,261.00 412.95,260.23 413.44,259.43 413.93,258.57 414.41,257.68 414.90,256.73 415.39,255.74 415.88,254.70 416.36,253.60 416.85,252.40 417.34,251.09 417.82,249.69 418.31,248.20 418.80,246.64 419.29,245.02 419.77,243.35 420.26,241.65 420.75,239.92 421.23,238.18 421.72,236.43 422.21,234.70 422.70,232.96 423.18,231.16 423.67,229.31 424.16,227.42 424.64,225.50 425.13,223.55 425.62,221.59 426.11,219.61 426.59,217.63 427.08,215.65 427.57,213.69 428.05,211.75 428.54,209.83 429.03,207.87 429.52,205.81 430.00,203.72 430.49,201.66 430.98,199.67 431.46,197.82 431.95,196.16 432.44,194.75 432.93,193.53 433.41,192.37 433.90,191.29 434.39,190.30 434.88,189.39 435.36,188.56 435.85,187.83 436.34,187.20 436.82,186.58 437.31,185.96 437.80,185.38 438.29,184.84 438.77,184.38 439.26,184.02 439.75,183.78 440.23,183.70 440.72,183.76 441.21,183.94 441.70,184.22 442.18,184.58 442.67,185.02 443.16,185.51 443.64,186.05 444.13,186.62 444.62,187.20 445.11,187.85 445.59,188.69 446.08,189.69 446.57,190.81 447.05,192.01 447.54,193.26 448.03,194.52 448.52,195.76 449.00,196.99 449.49,198.26 449.98,199.57 450.47,200.91 450.95,202.29 451.44,203.71 451.93,205.18 452.41,206.68 452.90,208.23 453.39,209.83 453.88,211.52 454.36,213.32 454.85,215.22 455.34,217.18 455.82,219.20 456.31,221.23 456.80,223.27 457.29,225.28 457.77,227.25 458.26,229.14 458.75,230.94 459.23,232.68 459.72,234.43 460.21,236.17 460.70,237.89 461.18,239.58 461.67,241.25 462.16,242.87 462.64,244.44 463.13,245.95 463.62,247.39 464.11,248.75 464.59,250.03 465.08,251.25 465.57,252.43 466.06,253.58 466.54,254.70 467.03,255.77 467.52,256.81 468.00,257.81 468.49,258.76 468.98,259.67 469.47,260.52 469.95,261.33 470.44,262.09 470.93,262.81 471.41,263.49 471.90,264.14 472.39,264.77 472.88,265.37 473.36,265.94 473.85,266.48 474.34,266.99 474.82,267.48 475.31,267.94 475.80,268.38 476.29,268.81 476.77,269.22 477.26,269.62 477.75,270.01 478.23,270.39 478.72,270.76 479.21,271.11 479.70,271.46 480.18,271.79 480.67,272.12 481.16,272.43 481.65,272.74 482.13,273.04 482.62,273.33 483.11,273.61 483.59,273.88 484.08,274.15 484.57,274.41 485.06,274.67 485.54,274.93 486.03,275.18 486.52,275.43 487.00,275.68 487.49,275.92 487.98,276.15 488.47,276.38 488.95,276.60 489.44,276.81 489.93,277.02 490.41,277.22 490.90,277.41 491.39,277.59 491.88,277.75 492.36,277.91 492.85,278.06 493.34,278.20 493.82,278.33 494.31,278.45 494.80,278.57 495.29,278.69 495.77,278.80 496.26,278.91 496.75,279.02 497.24,279.12 497.72,279.22 498.21,279.31 498.70,279.41 499.18,279.50 499.67,279.58 500.16,279.67 500.65,279.75 501.13,279.83 501.62,279.90 502.11,279.97 502.59,280.04 503.08,280.11 503.57,280.18 504.06,280.24 504.54,280.31 505.03,280.37 505.52,280.43 506.00,280.49 506.49,280.55 506.98,280.60 507.47,280.66 507.95,280.71 508.44,280.76 508.93,280.81 509.41,280.86 509.90,280.90 510.39,280.95 510.88,280.99 511.36,281.03 511.85,281.07 512.34,281.11 512.83,281.15 513.31,281.19 513.80,281.22 514.29,281.25 514.77,281.29 515.26,281.32 515.75,281.36 516.24,281.39 516.72,281.42 517.21,281.46 517.70,281.49 518.18,281.52 518.67,281.55 519.16,281.59 519.65,281.62 520.13,281.65 520.62,281.68 521.11,281.71 521.59,281.74 522.08,281.76 522.57,281.79 523.06,281.82 523.54,281.85 524.03,281.87 524.52,281.90 525.00,281.92 525.49,281.95 525.98,281.97 526.47,281.99 526.95,282.01 527.44,282.03 527.93,282.05 528.42,282.07 528.90,282.09 529.39,282.10 529.88,282.12 530.36,282.13 530.85,282.15 531.34,282.16 531.83,282.17 532.31,282.18 532.80,282.19" fill="none" stroke="#2a1eb8" stroke-width="1.5" stroke-linejoin="round" stroke-linecap="round" />
<rect x="376.9" y="173.2" width="155.89999999999998" height="116.0" fill="none" stroke="#000" stroke-width="1.3"/>
<line x1="373.2" y1="284.2" x2="376.9" y2="284.2" stroke="#000" stroke-width="1" />
<text x="372.7" y="286.4" font-family='"Liberation Sans", sans-serif' font-size="8.4" font-weight="bold" fill="#222" text-anchor="end" >0.0</text>
<line x1="373.2" y1="233.95" x2="376.9" y2="233.95" stroke="#000" stroke-width="1" />
<text x="372.7" y="236.14999999999998" font-family='"Liberation Sans", sans-serif' font-size="8.4" font-weight="bold" fill="#222" text-anchor="end" >0.5</text>
<line x1="373.2" y1="183.7" x2="376.9" y2="183.7" stroke="#000" stroke-width="1" />
<text x="372.7" y="185.89999999999998" font-family='"Liberation Sans", sans-serif' font-size="8.4" font-weight="bold" fill="#222" text-anchor="end" >1.0</text>
<line x1="375.4" y1="259.075" x2="376.9" y2="259.075" stroke="#000" stroke-width="0.8" />
<line x1="375.4" y1="208.825" x2="376.9" y2="208.825" stroke="#000" stroke-width="0.8" />
<line x1="386.64374999999995" y1="289.2" x2="386.64374999999995" y2="291.7" stroke="#000" stroke-width="1" />
<text x="386.64374999999995" y="300.0" font-family='"Liberation Sans", sans-serif' font-size="8.6" font-weight="bold" fill="#222" text-anchor="middle" >750</text>
<line x1="435.36249999999995" y1="289.2" x2="435.36249999999995" y2="291.7" stroke="#000" stroke-width="1" />
<text x="435.36249999999995" y="300.0" font-family='"Liberation Sans", sans-serif' font-size="8.6" font-weight="bold" fill="#222" text-anchor="middle" >800</text>
<line x1="484.08124999999995" y1="289.2" x2="484.08124999999995" y2="291.7" stroke="#000" stroke-width="1" />
<text x="484.08124999999995" y="300.0" font-family='"Liberation Sans", sans-serif' font-size="8.6" font-weight="bold" fill="#222" text-anchor="middle" >850</text>
<line x1="532.8" y1="289.2" x2="532.8" y2="291.7" stroke="#000" stroke-width="1" />
<text x="532.8" y="300.0" font-family='"Liberation Sans", sans-serif' font-size="8.6" font-weight="bold" fill="#222" text-anchor="middle" >900</text>
<line x1="411.00312499999995" y1="289.2" x2="411.00312499999995" y2="290.7" stroke="#000" stroke-width="0.8" />
<line x1="459.72187499999995" y1="289.2" x2="459.72187499999995" y2="290.7" stroke="#000" stroke-width="0.8" />
<line x1="508.44062499999995" y1="289.2" x2="508.44062499999995" y2="290.7" stroke="#000" stroke-width="0.8" />
<text x="408.4" y="310.6" font-family='"Liberation Sans", sans-serif' font-size="11.9" font-weight="bold" fill="#111" text-anchor="start" textLength="66.4" lengthAdjust="spacingAndGlyphs" >Wavelength</text>
<text x="477.2" y="310.6" font-family='"Liberation Sans", sans-serif' font-size="9.8" font-weight="bold" fill="#111" text-anchor="start" textLength="23.8" lengthAdjust="spacingAndGlyphs" >(nm)</text>
<text transform="translate(358.9,287) rotate(-90)" font-family='"Liberation Sans", sans-serif' font-size="11.4" font-weight="bold" fill="#111" textLength="111" lengthAdjust="spacingAndGlyphs">Normalized intensity</text>
<line x1="482.5" y1="186.6" x2="495.6" y2="186.6" stroke="#111" stroke-width="1.5" />
<text x="496.0" y="189.5" font-family='"Liberation Sans", sans-serif' font-size="8.8" font-weight="bold" fill="#111" text-anchor="start" >CyOH</text>
<line x1="482.5" y1="197.1" x2="495.6" y2="197.1" stroke="#924424" stroke-width="1.5" />
<text x="496.0" y="200.0" font-family='"Liberation Sans", sans-serif' font-size="8.8" font-weight="bold" fill="#111" text-anchor="start" >CyCD</text>
<line x1="482.5" y1="207.6" x2="495.6" y2="207.6" stroke="#2a1eb8" stroke-width="1.5" />
<text x="496.0" y="210.5" font-family='"Liberation Sans", sans-serif' font-size="8.8" font-weight="bold" fill="#111" text-anchor="start" >CyNPs</text>
</svg></body></html>
